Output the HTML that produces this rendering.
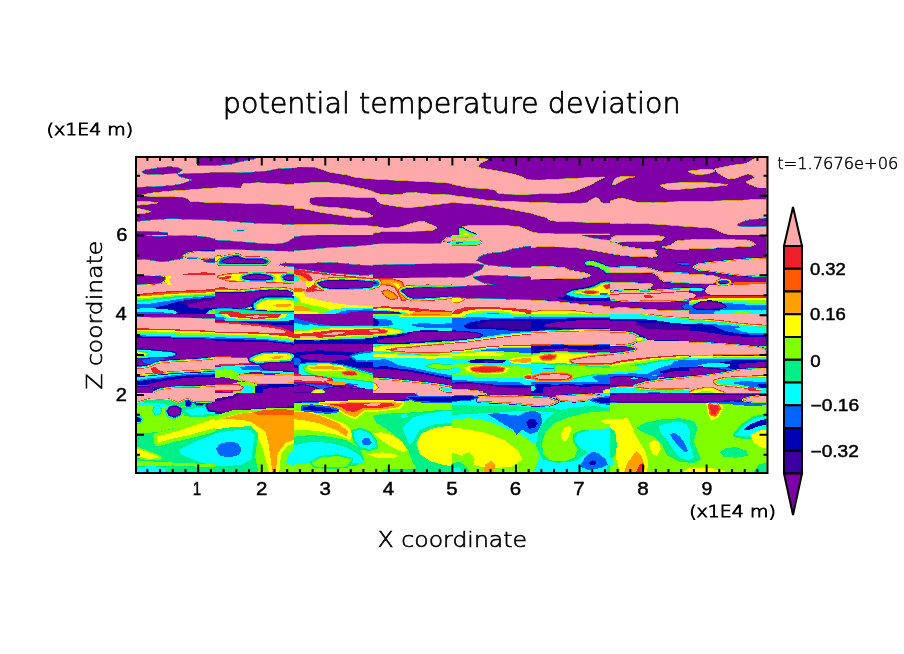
<!DOCTYPE html>
<html><head><meta charset="utf-8"><title>potential temperature deviation</title><style>html,body{margin:0;padding:0;background:#fff;overflow:hidden}</style></head><body>
<svg width="904" height="654" viewBox="0 0 904 654" style="display:block">
<rect width="904" height="654" fill="#fff"/>
<defs><clipPath id="fc"><rect x="137" y="158" width="629.5" height="314"/></clipPath></defs>
<g clip-path="url(#fc)" shape-rendering="crispEdges">
<rect x="137" y="158" width="629.5" height="314" fill="#ffaaaa"/>
<defs>
<clipPath id="t0"><rect x="136" y="156" width="158" height="79"/></clipPath>
<path id="q1" d="M197.2 157.4L254.8 157.4L254.8 158.4L240.9 161.2L230.4 163.9L214.7 165.1L198.9 165.1L197.2 163Z"/>
<path id="q2" d="M142.1 171.7L146.5 170L158.7 168.2L169.2 167.2L177.9 167.9L182.3 170L177.9 172.6L167.5 173.5L153.5 174L144.7 173.5Z"/>
<path id="q3" d="M177.9 174.7L193.7 173.7L214.7 173.3L233.9 173.3L249.6 172.8L267.1 171.4L275.8 169.5L294 168.4L294 224.2L275.8 223.3L258.3 222.9L240.9 221.7L223.4 220.3L205.9 219.3L188.4 218.9L171 218.2L153.5 219.3L136 221L136 187.8L153.5 187.1L171 186.1L181.4 184.3L193.7 179.9L181.4 176.6Z"/>
<path id="q4" d="M141.2 195.3L153.5 193.1L171 191.3L188.4 190.3L205.9 188.9L223.4 187.8L240.9 188.5L243 184L258.3 183.1L275.8 184L294 185L294 205.3L275.8 204.1L258.3 203.2L240.9 202.8L223.4 202.5L211.2 202.3L190.2 200.9L187.6 198.3L183.2 196.7L162.2 196.2L146.5 195.8Z"/>
<path id="q5" d="M136 201.8L146.5 201.8L157 202.8L146.5 204.1L136 204.9Z"/>
<path id="q6" d="M136 208.4L143 209.8L150 211.6L143 213.3L136 213.7Z"/>
<path id="q7" d="M136 231.5L153.5 232L167.5 232.9L167.5 235L136 235Z"/>
<clipPath id="t1"><rect x="294" y="156" width="158" height="79"/></clipPath>
<path id="q8" d="M294 156L452 156L452 183.1L442.6 182.2L425.1 181.3L407.6 180.5L390.1 179.6L372.7 178.7L355.2 177L346.4 174.4L339.4 173.5L329 171.7L322 169.1L315 166.8L297.5 166.5L294 167.9Z"/>
<path id="q9" d="M294 184L311.5 183.1L329 183.1L337.7 184L346.4 185.4L355.2 187.5L363.9 189.2L370.9 191L375.3 193.1L381.4 194.8L391.9 195.3L402.4 194.5L405.9 193.2L416.3 193.1L433.8 194.8L452 195.3L452 202.3L433.8 204.6L416.3 206.7L405.9 207.2L391.9 205.3L381.4 203.5L377.9 201.1L375.3 197.4L363.9 197.1L346.4 196.7L329 196.5L315 196.7L309.7 197.9L308.9 201.4L310.6 204.9L320.2 207L337.7 208.1L355.2 210.2L367.4 212.8L372.7 216.3L363.9 217.5L355.2 217.2L337.7 214.6L320.2 211.9L308 209.3L302.7 208.4L294 208.4Z"/>
<path id="q10" d="M294 224.5L329 225L363.9 225.9L376.1 226.8L384.9 228.5L398.9 227.7L407.6 225L416.3 222.4L423.3 221.5L428.6 224.2L433.8 225.9L436.4 228L432.1 230.3L416.3 230.8L398.9 231.2L381.4 231.5L372.7 232.9L372.7 235L294 235Z"/>
<clipPath id="t2"><rect x="452" y="156" width="158" height="79"/></clipPath>
<path id="q11" d="M452 156L476.5 156L476.5 158.1L487.8 159.5L480 163L477.3 166.5L481.7 168.6L495.7 170.9L504.4 172.6L513.2 174.4L521.9 177L527.2 180.1L539.4 180.5L556.9 179.6L574.3 178.7L591.8 177.8L604.1 177.3L597.1 180.5L591.8 184L583.1 187.5L574.3 191L565.6 192.7L548.1 193.2L521.9 194.1L504.4 193.6L497.4 192.7L496.6 190.1L487 188.3L469.5 187.5L460.7 185.7L452 184Z"/>
<path id="q12" d="M452 195.8L469.5 197.9L487 200.6L504.4 201.8L521.9 202.3L539.4 202.8L556.9 203.5L574.3 204.1L586.6 203.2L591.8 199.7L595.3 197.9L598.8 198.8L600.6 202.3L604.1 204.1L610 204.1L610 222.4L591.8 222.1L574.3 221.5L556.9 221L549.9 219.8L546.4 217.2L539.4 215.4L530.7 212.8L521.9 211.1L504.4 207.6L487 204.9L469.5 203.2L452 202.3Z"/>
<path id="q13" d="M462.5 226.8L469.5 225.9L487 225.6L504.4 225.9L518.4 226.8L525.4 229.4L530.7 232L539.4 233.8L556.9 234.3L610 234.3L610 236.4L462.5 236.4Z"/>
<path id="q14" d="M460 228.7L462.8 229.1L468.6 232.6L475.6 235L460 235Z"/>
<clipPath id="t3"><rect x="610" y="156" width="158" height="79"/></clipPath>
<path id="q15" d="M612.6 184L615.2 178.7L620.5 177L627.5 176.6L634.5 176.6L627.5 177.8L620.5 181.3L615.2 184Z"/>
<path id="q16" d="M714.9 169.1L723.6 167.4L732.3 165.6L746.3 163.9L753.3 159.5L755.9 158.1L768 158.1L768 187.5L758.6 187.5L749.8 184L746.3 182.2L749.8 180.5L755.1 177.8L753.3 175.2L748.1 173.5L742.8 175.2L735.8 177.8L728.8 178.7L721.9 175.2L716.6 171.7Z"/>
<path id="q17" d="M688.7 171.4L700.9 170L711.4 169.6L714.9 170.9L707.9 173.5L697.4 174.4L692.1 173.1Z"/>
<path id="q18" d="M660.7 185.4L669.4 183.6L679.9 183.1L697.4 182.6L714.9 183.6L727.1 184.8L714.9 186.1L697.4 187.5L679.9 188.9L667.7 189.2L664.2 187.5Z"/>
<path id="q19" d="M610 201.4L617 199.3L622.2 198.3L625.7 199.3L632.7 201.4L638 202.8L653.7 203.2L671.2 202.3L688.7 201.8L706.1 201.8L723.6 201.1L741.1 200.6L758.6 199.7L768 199.7L768 235L732.3 235L723.6 232.9L716.6 229.4L711.4 227.7L697.4 226.8L679.9 225.6L662.4 224.2L645 223.3L627.5 222.8L610 223.3Z"/>
<path id="q20" d="M737.6 225L742.8 222.1L749.8 220.3L760.3 219.3L768 218L768 225.9L749.8 226.3L739.3 225.9Z"/>
<clipPath id="t4"><rect x="136" y="235" width="79" height="79"/></clipPath>
<path id="q21" d="M136 235L145.7 235L145.7 236.2L160.2 236.8L172.2 236.2L184.3 236L196.4 236.4L208.5 237.7L215 239.6L215 250.7L202.4 251.3L190.4 252.5L184.3 254.1L180.7 256.5L183.1 258L175.9 259.2L166.2 261L160.2 261.3L148.1 259.2L140.8 258.6L136 258.6Z"/>
<path id="q22" d="M184.3 255.5L187.9 253.7L194 252.5L202.4 251.9L215 251.9L215 257.3L208.5 258.6L196.4 257.3L187.9 257.3Z"/>
<path id="q23" d="M203.6 261L208.5 259.5L215 258.9L215 262.2L208.5 262.2Z"/>
<path id="q24" d="M136 276.1L148.1 276.3L160.2 276.7L165 277.9L163.8 280.3L160.2 282.7L148.1 283.6L136 283.9Z"/>
<path id="q25" d="M207.3 314L209.7 311.1L215 310.1L215 314Z"/>
<clipPath id="t5"><rect x="215" y="235" width="79" height="79"/></clipPath>
<path id="q26" d="M215 240.4L227.1 241L239.2 242L251.2 242.9L263.3 244.1L275.4 244.4L282.6 243.5L287.5 242.2L291.1 239.8L294 238.6L294 251.3L287.5 250.7L275.4 250.5L263.3 250.1L251.2 249.7L239.2 249.3L227.1 248.9L215 249.3Z"/>
<path id="q27" d="M215 256.7L219.8 256.1L222.2 258L219.8 260.4L215 261Z"/>
<path id="q28" d="M218.6 261.8L221.6 258L229.5 255.8L238 254.9L242.2 257.3L247.6 258.2L258.5 258L265.7 258.9L268.8 261.3L266.3 264L251.2 264.2L227.1 264.2L218.6 264Z"/>
<path id="q29" d="M222.2 261.3L227.1 258.9L234.3 257.3L238 257L240.4 258.6L246.4 259.8L257.3 259.5L263.3 260.1L265.7 261.6L263.3 263L251.2 263.3L227.1 263Z"/>
<path id="q30" d="M280.2 264.6L285.1 263.7L294 264L294 265.9L287.5 265.9Z"/>
<path id="q31" d="M218.6 276.7L227.1 274.9L239.2 273.9L251.2 273.4L263.3 273.4L275.4 273.9L287.5 273.4L294 273.1L294 282.7L287.5 282.4L275.4 281.5L263.3 280.9L251.2 280.7L239.2 280.7L227.1 279.9Z"/>
<path id="q32" d="M243.4 277.5L248.8 275.7L256.1 274.9L263.3 275.3L269.4 276.7L271.8 278.2L263.3 279.1L253.7 279.1L246.4 278.5Z"/>
<path id="q33" d="M283.9 276.9L287.5 275.8L294 275.7L294 279.5L287.5 279.7L284.8 278.5Z"/>
<path id="q34" d="M215 292.7L227.1 292.7L239.2 293.2L251.2 292L263.3 290.8L275.4 290.3L287.5 291.2L292.3 293L289.9 297.8L282.6 299L269.4 299L257.3 300.8L251.2 305.1L245.2 307.5L233.1 307.7L221 307.5L215 307.5Z"/>
<path id="q35" d="M256.1 305.1L262.1 301.2L269.4 300L281.4 300L289.9 300.5L294 301L294 309.9L281.4 310.5L269.4 309.9L257.3 308.9Z"/>
<path id="q36" d="M215 309.3L227.1 308.9L239.2 309.7L251.2 310.9L263.3 311.7L275.4 312.6L294 312.6L294 314L215 314Z"/>
<clipPath id="t6"><rect x="294" y="235" width="79" height="79"/></clipPath>
<path id="q37" d="M294 237.2L303.7 236L318.2 235.4L330.2 235L373 235L373 244.4L366.5 244.7L354.4 245.9L342.3 246.5L330.2 247.1L318.2 248.3L306.1 249.5L294 250.1Z"/>
<path id="q38" d="M294 264L306.1 264L318.2 263.4L330.2 263L342.3 263.7L354.4 265.2L366.5 265.8L373 266.2L373 273.7L366.5 274.9L354.4 274.3L342.3 273.4L330.2 272.7L318.2 271.2L306.1 269.4L294 268.2Z"/>
<path id="q39" d="M294 276.7L297 277L298.8 278.7L297 280.7L294 280.9Z"/>
<path id="q40" d="M318.2 283.3L323 281.7L330.2 280.9L342.3 280.5L354.4 280.9L366.5 281.7L373 282.4L373 286.3L366.5 287.3L354.4 287.7L342.3 287.9L330.2 287.9L323 286.7Z"/>
<clipPath id="t7"><rect x="373" y="235" width="79" height="79"/></clipPath>
<path id="q41" d="M373 235L452 235L452 236.8L447.9 237.2L443.1 238.6L441.9 241L440.6 242.9L433.4 243.2L421.3 243.2L409.2 242.9L397.2 243.2L385.1 243.2L373 243.7Z"/>
<path id="q42" d="M444.3 240.4L446.7 238.4L452 237.4L452 241.6L447.9 241.3Z"/>
<path id="q43" d="M373 265.4L385.1 265.2L397.2 264.6L409.2 264.6L421.3 264.4L433.4 264.2L445.5 264L452 263.7L452 276.7L433.4 277L409.2 277.5L385.1 277.5L373 277.9Z"/>
<path id="q44" d="M377.8 279.9L391.1 279.5L400.8 282.7L403.8 288.1L408.6 298.4L402.6 299.3L399 291.8L395.3 286.3L388.7 283.9L380.2 283.6Z"/>
<path id="q45" d="M382.7 291.8L387.5 290.6L392.3 293L397.2 297.8L391.1 299L385.1 295.4Z"/>
<path id="q46" d="M373 280.3L377.8 280.9L379.6 283.3L377.8 285.7L373 286.3Z"/>
<path id="q47" d="M402 290.6L406.8 289L415.3 288.4L427.4 288.1L439.4 288.4L452 288.1L452 295.4L445.5 296L433.4 297L421.3 297.6L412.9 297.8L408 296Z"/>
<path id="q48" d="M373 312.3L385.1 312.1L397.2 312.9L400.8 314L373 314Z"/>
<clipPath id="t8"><rect x="452" y="235" width="79" height="79"/></clipPath>
<path id="q49" d="M452 235L473.7 235L472.5 236.4L464.1 237.2L452 237.7Z"/>
<path id="q50" d="M452 241.6L458 241L464.1 241.3L471.3 241L478.6 241L481 242.5L476.2 244.1L464.1 244.4L452 244.4Z"/>
<path id="q51" d="M477.4 260.4L479.8 257.3L483.4 255.5L488.2 254.3L494.3 253.1L500.3 252.9L505.1 251.9L510 250.1L514.8 248.9L520.9 248.3L524.5 247.1L531 246.5L531 266.6L524.5 266.6L512.4 266.6L500.3 265.8L488.2 264.6L483.4 263.4L481 261.8Z"/>
<path id="q52" d="M452 264L464.1 263.7L476.2 264L483.4 265.2L482.2 268.2L476.2 271.2L470.1 274.9L464.1 276.7L452 276.7Z"/>
<path id="q53" d="M473.7 277.3L482.2 276.1L488.2 275.5L500.3 276.1L512.4 276.7L524.5 277.3L531 277.5L531 299.3L512.4 298.7L488.2 298.1L464.1 297.5L452 297.1L452 287.2L464.1 286.6L476.2 286L488.2 285.4L497.9 284.5L488.2 283.3L482.2 282.1L476.2 279.1Z"/>
<path id="q54" d="M452 297.8L459.2 297.8L464.1 299.6L459.2 302L452 302.6Z"/>
<clipPath id="t9"><rect x="531" y="235" width="79" height="79"/></clipPath>
<path id="q55" d="M531 235L610 235L610 253.1L603.5 251.9L591.4 249.5L579.3 247.7L567.2 246.8L555.2 246.5L543.1 246.1L537 246.5L531 247.7Z"/>
<path id="q56" d="M582.9 235L610 235L610 239.8L603.5 239.2L591.4 237.4Z"/>
<path id="q57" d="M531 267.4L543.1 267L555.2 267.4L564.8 268.2L569.7 270.6L579.3 272.4L586.6 273.7L590.2 275.5L585.4 277.3L579.3 277.9L567.2 278.2L555.2 278.5L543.1 278.5L531 278.7Z"/>
<path id="q58" d="M586 262.8L589 261.6L595 262.5L601.1 264.6L605.9 267L610 267.6L610 271.8L607.1 272.4L603.5 269.4L598.6 266.6L591.4 264.6L586.6 264.6Z"/>
<path id="q59" d="M566 294.2L572.1 291.2L579.3 290L589 288.1L596.2 285.7L601.1 282.7L605.9 282.1L610 281.5L610 297.2L603.5 297.8L591.4 297.8L579.3 297.6L570.9 296Z"/>
<path id="q60" d="M574.5 291.8L581.7 290.6L589 289.6L596.2 287.5L601.1 284.5L605.9 283.3L610 283.3L610 294.2L603.5 294.8L591.4 294.8L581.7 293.6L575.7 293Z"/>
<path id="q61" d="M581.7 291.8L587.8 290.8L593.8 291.2L598.6 291.8L593.8 293.6L587.8 293.6Z"/>
<path id="q62" d="M603.5 285.7L610 283.9L610 288.1L605.9 288.8Z"/>
<path id="q63" d="M531 300.8L543.1 301.2L555.2 302L567.2 303.2L579.3 304.5L591.4 305.7L603.5 306.5L610 306.9L610 314L531 314Z"/>
<path id="q64" d="M531 314L531 312.3L543.1 310.9L555.2 310.5L567.2 310.9L579.3 311.7L591.4 313.3L592.6 314Z"/>
<clipPath id="t10"><rect x="610" y="235" width="79" height="79"/></clipPath>
<path id="q65" d="M612.4 237.4L617.2 235.6L634.2 235.6L646.2 235.6L658.3 236L664.4 237.4L661.9 239.8L652.3 241L634.2 241.3L622.1 241.6L613.6 242.2L610 240.4Z"/>
<path id="q66" d="M610 242.9L616 243.5L622.1 246.5L634.2 248.3L646.2 250.1L652.3 250.1L655.9 250.7L654.7 253.1L657.1 255.5L652.3 256.7L634.2 256.1L622.1 254.9L610 253.1Z"/>
<path id="q67" d="M663.1 247.1L670.4 245.9L674 243.5L677.6 241L684.9 240.4L689 240.4L689 248.9L682.5 248.9L670.4 248.5Z"/>
<path id="q68" d="M675.2 263L682.5 262.8L689 263.4L689 265.2L682.5 265Z"/>
<path id="q69" d="M610 268.2L622.1 267.4L634.2 267.4L646.2 268.2L653.5 270L658.3 271.8L664.4 272.7L676.4 273.4L689 273.7L689 281.5L676.4 281.9L664.4 280.9L660.7 278.5L658.3 275.5L653.5 272.4L646.2 272.2L634.2 271.8L622.1 271.8L610 271.8Z"/>
<path id="q70" d="M610 283.3L622.1 283.1L634.2 283.3L646.2 283.9L652.3 284.5L649.9 288.1L645 289.4L634.2 290.3L622.1 290L610 289.6Z"/>
<path id="q71" d="M610 293L622.1 291.5L634.2 291.2L646.2 291.8L658.3 290.8L670.4 290L682.5 289.4L689 289.4L689 299L682.5 299.6L670.4 300.2L658.3 300.2L646.2 300.2L634.2 300.8L622.1 300.2L610 299Z"/>
<path id="q72" d="M681.3 306.3L684.9 304.5L689 304.1L689 308.7L684.9 308.9Z"/>
<path id="q73" d="M610 308.7L622.1 308.1L634.2 308.7L646.2 309.7L658.3 310.5L670.4 311.1L682.5 311.3L689 311.1L689 314L610 314Z"/>
<clipPath id="t11"><rect x="689" y="235" width="79" height="79"/></clipPath>
<path id="q74" d="M689 240.4L701.1 240.1L713.2 239.8L725.2 240.1L737.3 240.4L747 240.4L751.8 242.2L754.8 244.1L751.8 245.6L737.3 246.5L725.2 247.1L713.2 247.7L701.1 248L689 248.3Z"/>
<path id="q75" d="M693.8 267L698.7 264.6L707.1 263.4L719.2 262.2L731.3 261L743.4 259.8L755.4 259.2L768 258.6L768 275.5L755.4 275.5L743.4 274.9L731.3 273.7L719.2 271.8L707.1 270L698.7 269.4Z"/>
<path id="q76" d="M689 274.6L701.1 275.1L713.2 276.1L719.2 277.9L716.8 280.9L713.2 282.7L701.1 283.3L689 283.3Z"/>
<path id="q77" d="M718.6 282.4L721.6 281.4L726.4 281.4L728.6 282.4L725.2 283.1L720.6 283.1Z"/>
<path id="q78" d="M689 288.1L695 287.7L701.1 288.1L704.7 289.4L701.1 290.8L695 290.8L689 290.3Z"/>
<path id="q79" d="M693.8 306.3L701.1 302.3L710.7 301.7L720.4 303.5L725.2 306.3L719.2 308.1L707.1 308.7L696.2 308.1Z"/>
<clipPath id="t12"><rect x="136" y="314" width="79" height="79"/></clipPath>
<path id="q80" d="M136 314L215 314L215 318.2L196.4 317.6L184.3 317.4L172.2 317L160.2 317L148.1 316.7L136 316.4Z"/>
<path id="q81" d="M136 349.6L148.1 350.2L160.2 351.4L172.2 352.4L175.9 353.9L172.2 356.3L160.2 356.9L148.1 357.5L136 358.1Z"/>
<path id="q82" d="M136 352.1L142 352.4L148.1 353.9L143.2 355.7L136 356Z"/>
<path id="q83" d="M136 375L160.2 373.8L184.3 372L215 370.8L215 393L136 393Z"/>
<path id="q84" d="M136 369L145.7 368.4L150.5 367.1L155.3 364.7L160.2 363.5L172.2 362.3L184.3 361.7L196.4 361.1L208.5 359.9L215 359.3L215 368.6L196.4 369.8L184.3 370.4L172.2 371L160.2 372.2L148.1 373.4L136 373.8Z"/>
<path id="q85" d="M136 381.6L148.1 379.8L160.2 378.6L172.2 376.8L184.3 375.6L196.4 375L215 374.4L215 393L136 393Z"/>
<path id="q86" d="M136 386.5L148.1 386.5L154.1 390.1L154.1 393L136 393Z"/>
<path id="q87" d="M154.1 393L160.2 390.1L172.2 388.3L184.3 387.9L196.4 387.7L208.5 387.1L215 386.5L215 393Z"/>
<clipPath id="t13"><rect x="215" y="314" width="79" height="79"/></clipPath>
<path id="q88" d="M251.2 359.3L257.3 356.3L263.3 354.5L275.4 353.9L287.5 354.5L292.3 355.7L289.9 359.3L281.4 359.9L269.4 360.5L257.3 361.7Z"/>
<path id="q89" d="M260.9 365.3L269.4 363.5L281.4 362.9L289.9 363.5L294 364.7L294 370.8L281.4 370.2L269.4 369.6L263.3 368.4Z"/>
<clipPath id="t14"><rect x="294" y="314" width="79" height="79"/></clipPath>
<path id="q90" d="M352 356.3L360.4 353.9L368.9 352.7L373 352.4L373 359.9L366.5 360.5L356.8 359.9Z"/>
<path id="q91" d="M298.8 364.7L306.1 363.5L318.2 362.9L330.2 363.5L342.3 365.3L354.4 368.4L366.5 372L373 373.8L373 386.5L354.4 384.1L342.3 382.2L330.2 381.6L318.2 381L306.1 379.8L298.8 376.8Z"/>
<path id="q92" d="M303.7 367.1L312.1 365.3L324.2 364.7L336.3 365.9L348.4 368.4L360.4 372L368.9 374.4L373 375.6L373 381.6L366.5 381L354.4 379.2L342.3 378L330.2 376.8L318.2 375.6L306.1 372Z"/>
<path id="q93" d="M308.5 367.1L318.2 366.2L330.2 366.2L339.9 367.1L344.7 369L336.3 369.6L324.2 369.3L312.1 369Z"/>
<path id="q94" d="M342.3 372.6L348.4 371.4L354.4 372L356.8 374.4L352 375L344.7 374.4Z"/>
<path id="q95" d="M294 385.9L303.7 385.3L312.1 387.1L318.2 389.1L312.1 391.6L303.7 392.2L294 391.6Z"/>
<path id="q96" d="M324.2 389.5L336.3 387.1L348.4 388.3L360.4 389.5L373 388.9L373 393L324.2 393Z"/>
<path id="q97" d="M312.1 393L315.7 390.3L321.8 390.1L324.2 391.9L323 393Z"/>
<clipPath id="t15"><rect x="373" y="314" width="79" height="79"/></clipPath>
<path id="q98" d="M373 327.9L385.1 328.3L397.2 329.7L403.2 331.5L397.2 333.3L385.1 334.5L373 335.1Z"/>
<path id="q99" d="M373 329.1L380.2 329.5L387.5 330.9L385.1 332.7L377.8 333.3L373 333.3Z"/>
<path id="q100" d="M373 347.8L379 346.6L385.1 345.6L397.2 344.8L409.2 344.8L421.3 344L433.4 343.2L445.5 342.7L452 342.4L452 353.9L433.4 354.5L421.3 353.9L409.2 352.7L397.2 352.1L385.1 351.4L373 350.8Z"/>
<path id="q101" d="M391.1 350.2L397.2 348.4L409.2 347.8L421.3 346.4L433.4 345.4L445.5 344.4L452 344.2L452 351.4L439.4 352.1L427.4 352.4L415.3 352.1L403.2 351.4Z"/>
<path id="q102" d="M426.1 365.9L433.4 364.1L440.6 364.5L447.9 364.7L452 365.3L452 368.4L445.5 369L433.4 368.4Z"/>
<path id="q103" d="M373 379.2L385.1 379.8L397.2 381L409.2 382.2L421.3 383.5L433.4 384.7L445.5 386.5L452 387.7L452 393L373 393Z"/>
<path id="q104" d="M373 382.9L375.4 384.1L377.8 387.7L375.4 390.1L373 390.1Z"/>
<path id="q105" d="M440.6 388.9L445.5 387.7L450.3 388.3L452 388.9L452 391.3L445.5 391.3Z"/>
<clipPath id="t16"><rect x="452" y="314" width="79" height="79"/></clipPath>
<path id="q106" d="M452 314L466.5 314L464.1 316.4L452 317Z"/>
<path id="q107" d="M452 331.5L464.1 332.1L476.2 333.3L482.2 335.1L476.2 337.6L464.1 338.8L452 339.4Z"/>
<path id="q108" d="M510 360.5L518.4 358.7L526.9 358.1L531 358.1L531 362.3L524.5 362.6L514.8 362.3Z"/>
<path id="q109" d="M471.3 368.4L482.2 366.9L494.3 366.9L503.9 368.4L502.7 370.8L494.3 371.7L482.2 372L473.7 370.8Z"/>
<path id="q110" d="M524.5 376.8L528.1 375.6L531 375.6L531 378.6L526.9 378.6Z"/>
<path id="q111" d="M452 384.1L464.1 383.5L476.2 384.1L488.2 385.3L500.3 387.1L512.4 388.3L531 388.5L531 393L452 393Z"/>
<path id="q112" d="M452 390.3L464.1 390.1L476.2 390.9L482.2 392.2L476.2 393L452 393Z"/>
<clipPath id="t17"><rect x="531" y="314" width="79" height="79"/></clipPath>
<path id="q113" d="M531 333.3L555.2 332.1L579.3 331.5L610 330.9L610 344.2L579.3 343.6L555.2 344L531 344.2Z"/>
<path id="q114" d="M531 346L555.2 345.4L579.3 345.6L610 345.4L610 353.9L579.3 354.5L555.2 352.7L531 353.3Z"/>
<path id="q115" d="M531 355.7L543.1 353.9L555.2 353.3L567.2 353.3L579.3 353.9L591.4 354.5L610 353.9L610 364.7L591.4 365.3L579.3 365.3L567.2 364.7L555.2 363.5L543.1 362.3L531 361.7Z"/>
<path id="q116" d="M540.7 356.9L549.1 355.3L555.2 355.7L554 358.1L549.1 359.3L541.9 358.7Z"/>
<path id="q117" d="M570.9 360.5L579.3 358.7L591.4 356.9L603.5 355.7L610 355.3L610 362.9L603.5 363.3L591.4 363.5L579.3 363.3L572.1 362.3Z"/>
<path id="q118" d="M555.2 364.7L567.2 364.7L579.3 365.9L591.4 367.1L610 367.8L610 374.4L591.4 374.4L579.3 376.8L567.2 379.2L555.2 379.2Z"/>
<path id="q119" d="M533.4 377.4L540.7 375L555.2 374.2L567.2 375L570.9 376.8L567.2 378.6L555.2 379.2L540.7 379.2Z"/>
<path id="q120" d="M603.5 391.3L607.1 389.5L610 389.5L610 393L603.5 393Z"/>
<clipPath id="t18"><rect x="610" y="314" width="79" height="79"/></clipPath>
<path id="q121" d="M610 378L622.1 376.8L634.2 377.4L646.2 379.2L652.3 381.6L646.2 384.1L634.2 385.3L622.1 385.3L610 385.3Z"/>
<path id="q122" d="M634.2 386.5L646.2 382.9L658.3 381L670.4 379.8L682.5 378.6L689 378L689 387.7L670.4 388.3L658.3 387.9L646.2 387.7Z"/>
<path id="q123" d="M610 389.1L622.1 387.9L634.2 388.5L646.2 390.3L658.3 390.9L670.4 390.9L689 390.3L689 393L610 393Z"/>
<path id="q124" d="M634.2 393L640.2 390.7L652.3 390.7L664.4 391.3L670.4 393Z"/>
<path id="q125" d="M610 314L634.2 314L646.2 315.2L658.3 317L670.4 318.2L682.5 318.8L689 319.1L689 326.1L610 326.1Z"/>
<path id="q126" d="M610 332.7L622.1 332.7L631.7 333.9L637.2 336.3L636.6 340L631.7 343L622.1 344.4L610 345.2Z"/>
<path id="q127" d="M636 338.2L640.2 337.7L645 339.4L640.2 340.8L637.2 340.6Z"/>
<path id="q128" d="M610 347.2L622.1 346.6L630.5 347.8L634.2 349L628.1 350.2L622.1 351.4L610 352.4Z"/>
<clipPath id="t19"><rect x="689" y="314" width="79" height="79"/></clipPath>
<path id="q129" d="M689 321.2L701.1 321L713.2 321.9L725.2 323.1L737.3 324.9L749.4 326.1L768 327.3L768 346.6L689 343Z"/>
<path id="q130" d="M689 355.7L713.2 354.8L737.3 354.5L768 355.1L768 376.8L689 376.8Z"/>
<path id="q131" d="M689 368.4L701.1 367.8L713.2 369L725.2 370.8L731.3 373.2L713.2 375L701.1 375.6L689 376.2Z"/>
<path id="q132" d="M689 342.7L713.2 343.6L737.3 345.4L755.4 347.2L763.9 349L766.3 352.7L763.9 354.5L737.3 354.1L713.2 354.5L689 355.1Z"/>
<path id="q133" d="M689 377.4L701.1 376.6L713.2 375L725.2 373.2L737.3 370.8L749.4 369.6L768 369L768 393L689 393Z"/>
<path id="q134" d="M715.6 381.6L725.2 379.2L737.3 378.6L749.4 378L768 377.4L768 388.9L755.4 388.3L747 386.5L737.3 385.3L725.2 384.1L718 383.5Z"/>
<path id="q135" d="M689 393L695 390.1L707.1 387.7L713.2 388.3L719.2 391.3L725.2 393Z"/>
<clipPath id="t20"><rect x="136" y="393" width="158" height="79"/></clipPath>
<path id="q136" d="M136 393L244.4 393L240.9 396.5L223.4 398.2L214.7 400L197.2 400.9L188.4 400L179.7 401.7L171 402.6L162.2 400.9L153.5 401.7L136 400.9Z"/>
<path id="q137" d="M240.9 393L294 393L294 405.2L284.6 407L267.1 407.9L249.6 408.7L232.1 410.5L214.7 411.4L205.9 409.6L202.4 406.1L209.4 402.6L223.4 400L233.9 398.2Z"/>
<path id="q138" d="M168.3 410.5L171 407.9L176.2 407.3L180.6 409.6L179.7 414L174.5 415.7L170.1 414.8Z"/>
<path id="q139" d="M186.7 403.5L190.2 400.9L193.7 402.6L191.9 407L188.4 407.9Z"/>
<path id="q140" d="M279.3 472L281.1 454.2L288.1 445.4L294 443.7L294 472Z"/>
<path id="q141" d="M162.2 448.9L179.7 443.7L197.2 438.4L214.7 433.2L232.1 430.6L249.6 429.7L254.8 434.9L253.1 445.4L251.4 459.4L240.9 464.7L223.4 466.4L205.9 464.7L188.4 459.4L171 455.9Z"/>
<clipPath id="t21"><rect x="294" y="393" width="158" height="79"/></clipPath>
<path id="q142" d="M294 393L416.3 393L414.6 396.5L407.6 399.1L398.9 400L381.4 400.9L363.9 400.9L346.4 400.9L329 400.9L311.5 400.9L294 401.7Z"/>
<path id="q143" d="M416.3 393L452 393L452 396.8L433.8 396.8L419.8 396.1Z"/>
<path id="q144" d="M407.6 397.4L425.1 397.4L452 397.4L452 401.7L433.8 401.7L416.3 400.9Z"/>
<path id="q145" d="M320.2 403.5L337.7 402.6L363.9 401.7L390.1 401.7L402.4 403.5L398.9 407L381.4 409.6L363.9 410.5L355.2 417.5L346.4 414L337.7 408.7L329 406.1Z"/>
<path id="q146" d="M302.7 407L311.5 406.1L329 407.9L337.7 410.5L329 412.2L311.5 410.5L302.7 409.6Z"/>
<path id="q147" d="M311.5 462.9L320.2 457.7L337.7 455.9L351.7 459.4L346.4 466.4L329 467.3L315 466.4Z"/>
<path id="q148" d="M353.4 431.5L360.4 429.7L369.2 433.2L374.4 440.2L376.1 447.2L369.2 448.9L360.4 447.2L355.2 440.2Z"/>
<clipPath id="t22"><rect x="452" y="393" width="158" height="79"/></clipPath>
<path id="q149" d="M452 393L487 393L483.5 394.7L469.5 395.1L452 395.6Z"/>
<path id="q150" d="M478.2 397.4L504.4 396.5L530.7 397.4L548.1 398.2L556.9 401.7L548.1 405.2L530.7 404.4L513.2 402.6L495.7 401.7L478.2 400.9Z"/>
<path id="q151" d="M556.9 396.5L574.3 395.6L591.8 394.7L600.6 396.5L591.8 399.1L574.3 400.9L560.4 400Z"/>
<path id="q152" d="M452 396.5L469.5 395.6L478.2 397.4L469.5 400L452 400.9Z"/>
<path id="q153" d="M591.8 400L600.6 398.2L610 397.4L610 403.5L600.6 402.6Z"/>
<clipPath id="t23"><rect x="610" y="393" width="158" height="79"/></clipPath>
<path id="q154" d="M610 394.7L645 393.9L679.9 394.4L714.9 394.7L732.3 395.1L749.8 395.6L768 395.1L768 401.7L749.8 400.9L732.3 400L714.9 400.9L697.4 401.4L662.4 401.4L627.5 401.4L610 400.9Z"/>
<path id="q155" d="M742.8 400L749.8 397.4L768 395.6L768 401.7L753.3 401.7Z"/>
<path id="q156" d="M709.6 405.2L716.6 404.4L719.2 408.7L714.9 414.8L711.4 414Z"/>
<path id="q157" d="M735.8 434.9L742.8 426.2L753.3 419.2L768 415.7L768 433.2L758.6 434.9L746.3 436.7Z"/>
<clipPath id="t24"><rect x="136" y="393" width="79" height="79"/></clipPath>
<path id="q158" d="M157.1 436.5L172.2 432.6L190.4 426.8L215 418.6L215 428L190.4 434.7L172.2 438.7L157.7 442.8Z"/>
<path id="q159" d="M136 448L148.1 452.4L159 456.8L160.2 458.2L148.1 458.8L136 455.8Z"/>
<path id="q160" d="M152.9 409.9L155.3 406.5L159 406.3L161.4 409.9L159.6 414.1L155.3 414.7Z"/>
<path id="q161" d="M136 417.2L139.6 417.8L141.4 419.6L139.6 421.7L136 422Z"/>
<path id="q162" d="M168 411.1L170.4 407.5L175.9 406.9L180.1 409.3L179.5 413.5L174.7 416L169.8 414.7Z"/>
<path id="q163" d="M185.5 401.5L189.1 400.2L191.6 402.7L190.4 405.7L186.7 406.3Z"/>
<path id="q164" d="M207.3 405.1L210.9 403.3L215 402.9L215 409.9L209.7 409.9Z"/>
<path id="q165" d="M194 402.7L201.2 401.7L206.1 402.7L202.4 405.1L196.4 405.1Z"/>
<path id="q166" d="M136 393L215 393L215 400.9L203.6 401.5L194 400.9L187.9 397.8L184.3 399L178.3 402.1L169.8 398.4L160.2 399L148.1 398.4L136 402.1Z"/>
</defs>
<g stroke-linejoin="round">
<g clip-path="url(#t0)">
<rect x="136" y="156" width="158" height="79" fill="#ffaaaa"/>
<use href="#q1" fill="#f0202a" stroke="#f0202a" stroke-width="1.75"/>
<use href="#q1" fill="#ff5a00" stroke="#ff5a00" stroke-width="1.57"/>
<use href="#q1" fill="#ffa000" stroke="#ffa000" stroke-width="1.40"/>
<use href="#q1" fill="#ffff00" stroke="#ffff00" stroke-width="1.22"/>
<use href="#q1" fill="#80ff00" stroke="#80ff00" stroke-width="1.05"/>
<use href="#q1" fill="#00f088" stroke="#00f088" stroke-width="0.87"/>
<use href="#q1" fill="#00ffff" stroke="#00ffff" stroke-width="0.70"/>
<use href="#q1" fill="#0064ff" stroke="#0064ff" stroke-width="0.52"/>
<use href="#q1" fill="#0000b4" stroke="#0000b4" stroke-width="0.35"/>
<use href="#q1" fill="#3c00a0" stroke="#3c00a0" stroke-width="0.17"/>
<use href="#q1" fill="#8000a8"/>
<use href="#q2" fill="#f0202a" stroke="#f0202a" stroke-width="1.75"/>
<use href="#q2" fill="#ff5a00" stroke="#ff5a00" stroke-width="1.57"/>
<use href="#q2" fill="#ffa000" stroke="#ffa000" stroke-width="1.40"/>
<use href="#q2" fill="#ffff00" stroke="#ffff00" stroke-width="1.22"/>
<use href="#q2" fill="#80ff00" stroke="#80ff00" stroke-width="1.05"/>
<use href="#q2" fill="#00f088" stroke="#00f088" stroke-width="0.87"/>
<use href="#q2" fill="#00ffff" stroke="#00ffff" stroke-width="0.70"/>
<use href="#q2" fill="#0064ff" stroke="#0064ff" stroke-width="0.52"/>
<use href="#q2" fill="#0000b4" stroke="#0000b4" stroke-width="0.35"/>
<use href="#q2" fill="#3c00a0" stroke="#3c00a0" stroke-width="0.17"/>
<use href="#q2" fill="#8000a8"/>
<use href="#q3" fill="#f0202a" stroke="#f0202a" stroke-width="1.75"/>
<use href="#q3" fill="#ff5a00" stroke="#ff5a00" stroke-width="1.57"/>
<use href="#q3" fill="#ffa000" stroke="#ffa000" stroke-width="1.40"/>
<use href="#q3" fill="#ffff00" stroke="#ffff00" stroke-width="1.22"/>
<use href="#q3" fill="#80ff00" stroke="#80ff00" stroke-width="1.05"/>
<use href="#q3" fill="#00f088" stroke="#00f088" stroke-width="0.87"/>
<use href="#q3" fill="#00ffff" stroke="#00ffff" stroke-width="0.70"/>
<use href="#q3" fill="#0064ff" stroke="#0064ff" stroke-width="0.52"/>
<use href="#q3" fill="#0000b4" stroke="#0000b4" stroke-width="0.35"/>
<use href="#q3" fill="#3c00a0" stroke="#3c00a0" stroke-width="0.17"/>
<use href="#q3" fill="#8000a8"/>
<use href="#q4" fill="#3c00a0" stroke="#3c00a0" stroke-width="1.75"/>
<use href="#q4" fill="#0000b4" stroke="#0000b4" stroke-width="1.57"/>
<use href="#q4" fill="#0064ff" stroke="#0064ff" stroke-width="1.40"/>
<use href="#q4" fill="#00ffff" stroke="#00ffff" stroke-width="1.22"/>
<use href="#q4" fill="#00f088" stroke="#00f088" stroke-width="1.05"/>
<use href="#q4" fill="#80ff00" stroke="#80ff00" stroke-width="0.87"/>
<use href="#q4" fill="#ffff00" stroke="#ffff00" stroke-width="0.70"/>
<use href="#q4" fill="#ffa000" stroke="#ffa000" stroke-width="0.52"/>
<use href="#q4" fill="#ff5a00" stroke="#ff5a00" stroke-width="0.35"/>
<use href="#q4" fill="#f0202a" stroke="#f0202a" stroke-width="0.17"/>
<use href="#q4" fill="#ffaaaa"/>
<use href="#q5" fill="#3c00a0" stroke="#3c00a0" stroke-width="1.75"/>
<use href="#q5" fill="#0000b4" stroke="#0000b4" stroke-width="1.57"/>
<use href="#q5" fill="#0064ff" stroke="#0064ff" stroke-width="1.40"/>
<use href="#q5" fill="#00ffff" stroke="#00ffff" stroke-width="1.22"/>
<use href="#q5" fill="#00f088" stroke="#00f088" stroke-width="1.05"/>
<use href="#q5" fill="#80ff00" stroke="#80ff00" stroke-width="0.87"/>
<use href="#q5" fill="#ffff00" stroke="#ffff00" stroke-width="0.70"/>
<use href="#q5" fill="#ffa000" stroke="#ffa000" stroke-width="0.52"/>
<use href="#q5" fill="#ff5a00" stroke="#ff5a00" stroke-width="0.35"/>
<use href="#q5" fill="#f0202a" stroke="#f0202a" stroke-width="0.17"/>
<use href="#q5" fill="#ffaaaa"/>
<use href="#q6" fill="#3c00a0" stroke="#3c00a0" stroke-width="1.75"/>
<use href="#q6" fill="#0000b4" stroke="#0000b4" stroke-width="1.57"/>
<use href="#q6" fill="#0064ff" stroke="#0064ff" stroke-width="1.40"/>
<use href="#q6" fill="#00ffff" stroke="#00ffff" stroke-width="1.22"/>
<use href="#q6" fill="#00f088" stroke="#00f088" stroke-width="1.05"/>
<use href="#q6" fill="#80ff00" stroke="#80ff00" stroke-width="0.87"/>
<use href="#q6" fill="#ffff00" stroke="#ffff00" stroke-width="0.70"/>
<use href="#q6" fill="#ffa000" stroke="#ffa000" stroke-width="0.52"/>
<use href="#q6" fill="#ff5a00" stroke="#ff5a00" stroke-width="0.35"/>
<use href="#q6" fill="#f0202a" stroke="#f0202a" stroke-width="0.17"/>
<use href="#q6" fill="#ffaaaa"/>
<use href="#q7" fill="#f0202a" stroke="#f0202a" stroke-width="1.75"/>
<use href="#q7" fill="#ff5a00" stroke="#ff5a00" stroke-width="1.57"/>
<use href="#q7" fill="#ffa000" stroke="#ffa000" stroke-width="1.40"/>
<use href="#q7" fill="#ffff00" stroke="#ffff00" stroke-width="1.22"/>
<use href="#q7" fill="#80ff00" stroke="#80ff00" stroke-width="1.05"/>
<use href="#q7" fill="#00f088" stroke="#00f088" stroke-width="0.87"/>
<use href="#q7" fill="#00ffff" stroke="#00ffff" stroke-width="0.70"/>
<use href="#q7" fill="#0064ff" stroke="#0064ff" stroke-width="0.52"/>
<use href="#q7" fill="#0000b4" stroke="#0000b4" stroke-width="0.35"/>
<use href="#q7" fill="#3c00a0" stroke="#3c00a0" stroke-width="0.17"/>
<use href="#q7" fill="#8000a8"/>
<path d="M232.1 230.8L237.4 229.4L244.4 229.1L247 230.3L240.9 232L233.9 232.2Z" fill="#00ffff"/>
<path d="M235.6 230.8L240.9 229.9L244.4 230.5L240.9 231.3Z" fill="#0064ff"/>
</g>
<g clip-path="url(#t1)">
<rect x="294" y="156" width="158" height="79" fill="#8000a8"/>
<use href="#q8" fill="#3c00a0" stroke="#3c00a0" stroke-width="1.75"/>
<use href="#q8" fill="#0000b4" stroke="#0000b4" stroke-width="1.57"/>
<use href="#q8" fill="#0064ff" stroke="#0064ff" stroke-width="1.40"/>
<use href="#q8" fill="#00ffff" stroke="#00ffff" stroke-width="1.22"/>
<use href="#q8" fill="#00f088" stroke="#00f088" stroke-width="1.05"/>
<use href="#q8" fill="#80ff00" stroke="#80ff00" stroke-width="0.87"/>
<use href="#q8" fill="#ffff00" stroke="#ffff00" stroke-width="0.70"/>
<use href="#q8" fill="#ffa000" stroke="#ffa000" stroke-width="0.52"/>
<use href="#q8" fill="#ff5a00" stroke="#ff5a00" stroke-width="0.35"/>
<use href="#q8" fill="#f0202a" stroke="#f0202a" stroke-width="0.17"/>
<use href="#q8" fill="#ffaaaa"/>
<use href="#q9" fill="#3c00a0" stroke="#3c00a0" stroke-width="1.75"/>
<use href="#q9" fill="#0000b4" stroke="#0000b4" stroke-width="1.57"/>
<use href="#q9" fill="#0064ff" stroke="#0064ff" stroke-width="1.40"/>
<use href="#q9" fill="#00ffff" stroke="#00ffff" stroke-width="1.22"/>
<use href="#q9" fill="#00f088" stroke="#00f088" stroke-width="1.05"/>
<use href="#q9" fill="#80ff00" stroke="#80ff00" stroke-width="0.87"/>
<use href="#q9" fill="#ffff00" stroke="#ffff00" stroke-width="0.70"/>
<use href="#q9" fill="#ffa000" stroke="#ffa000" stroke-width="0.52"/>
<use href="#q9" fill="#ff5a00" stroke="#ff5a00" stroke-width="0.35"/>
<use href="#q9" fill="#f0202a" stroke="#f0202a" stroke-width="0.17"/>
<use href="#q9" fill="#ffaaaa"/>
<use href="#q10" fill="#3c00a0" stroke="#3c00a0" stroke-width="1.75"/>
<use href="#q10" fill="#0000b4" stroke="#0000b4" stroke-width="1.57"/>
<use href="#q10" fill="#0064ff" stroke="#0064ff" stroke-width="1.40"/>
<use href="#q10" fill="#00ffff" stroke="#00ffff" stroke-width="1.22"/>
<use href="#q10" fill="#00f088" stroke="#00f088" stroke-width="1.05"/>
<use href="#q10" fill="#80ff00" stroke="#80ff00" stroke-width="0.87"/>
<use href="#q10" fill="#ffff00" stroke="#ffff00" stroke-width="0.70"/>
<use href="#q10" fill="#ffa000" stroke="#ffa000" stroke-width="0.52"/>
<use href="#q10" fill="#ff5a00" stroke="#ff5a00" stroke-width="0.35"/>
<use href="#q10" fill="#f0202a" stroke="#f0202a" stroke-width="0.17"/>
<use href="#q10" fill="#ffaaaa"/>
</g>
<g clip-path="url(#t2)">
<rect x="452" y="156" width="158" height="79" fill="#8000a8"/>
<use href="#q11" fill="#3c00a0" stroke="#3c00a0" stroke-width="1.75"/>
<use href="#q11" fill="#0000b4" stroke="#0000b4" stroke-width="1.57"/>
<use href="#q11" fill="#0064ff" stroke="#0064ff" stroke-width="1.40"/>
<use href="#q11" fill="#00ffff" stroke="#00ffff" stroke-width="1.22"/>
<use href="#q11" fill="#00f088" stroke="#00f088" stroke-width="1.05"/>
<use href="#q11" fill="#80ff00" stroke="#80ff00" stroke-width="0.87"/>
<use href="#q11" fill="#ffff00" stroke="#ffff00" stroke-width="0.70"/>
<use href="#q11" fill="#ffa000" stroke="#ffa000" stroke-width="0.52"/>
<use href="#q11" fill="#ff5a00" stroke="#ff5a00" stroke-width="0.35"/>
<use href="#q11" fill="#f0202a" stroke="#f0202a" stroke-width="0.17"/>
<use href="#q11" fill="#ffaaaa"/>
<use href="#q12" fill="#3c00a0" stroke="#3c00a0" stroke-width="1.75"/>
<use href="#q12" fill="#0000b4" stroke="#0000b4" stroke-width="1.57"/>
<use href="#q12" fill="#0064ff" stroke="#0064ff" stroke-width="1.40"/>
<use href="#q12" fill="#00ffff" stroke="#00ffff" stroke-width="1.22"/>
<use href="#q12" fill="#00f088" stroke="#00f088" stroke-width="1.05"/>
<use href="#q12" fill="#80ff00" stroke="#80ff00" stroke-width="0.87"/>
<use href="#q12" fill="#ffff00" stroke="#ffff00" stroke-width="0.70"/>
<use href="#q12" fill="#ffa000" stroke="#ffa000" stroke-width="0.52"/>
<use href="#q12" fill="#ff5a00" stroke="#ff5a00" stroke-width="0.35"/>
<use href="#q12" fill="#f0202a" stroke="#f0202a" stroke-width="0.17"/>
<use href="#q12" fill="#ffaaaa"/>
<use href="#q13" fill="#3c00a0" stroke="#3c00a0" stroke-width="1.75"/>
<use href="#q13" fill="#0000b4" stroke="#0000b4" stroke-width="1.57"/>
<use href="#q13" fill="#0064ff" stroke="#0064ff" stroke-width="1.40"/>
<use href="#q13" fill="#00ffff" stroke="#00ffff" stroke-width="1.22"/>
<use href="#q13" fill="#00f088" stroke="#00f088" stroke-width="1.05"/>
<use href="#q13" fill="#80ff00" stroke="#80ff00" stroke-width="0.87"/>
<use href="#q13" fill="#ffff00" stroke="#ffff00" stroke-width="0.70"/>
<use href="#q13" fill="#ffa000" stroke="#ffa000" stroke-width="0.52"/>
<use href="#q13" fill="#ff5a00" stroke="#ff5a00" stroke-width="0.35"/>
<use href="#q13" fill="#f0202a" stroke="#f0202a" stroke-width="0.17"/>
<use href="#q13" fill="#ffaaaa"/>
<use href="#q14" fill="#3c00a0" stroke="#3c00a0" stroke-width="3.50"/>
<use href="#q14" fill="#0000b4" stroke="#0000b4" stroke-width="2.80"/>
<use href="#q14" fill="#0064ff" stroke="#0064ff" stroke-width="2.10"/>
<use href="#q14" fill="#00ffff" stroke="#00ffff" stroke-width="1.40"/>
<use href="#q14" fill="#00f088" stroke="#00f088" stroke-width="0.70"/>
<use href="#q14" fill="#80ff00"/>
<path d="M462.5 232.9L466 232.9L469.5 235L462.5 235Z" fill="#ffff00"/>
</g>
<g clip-path="url(#t3)">
<rect x="610" y="156" width="158" height="79" fill="#8000a8"/>
<use href="#q15" fill="#3c00a0" stroke="#3c00a0" stroke-width="1.75"/>
<use href="#q15" fill="#0000b4" stroke="#0000b4" stroke-width="1.57"/>
<use href="#q15" fill="#0064ff" stroke="#0064ff" stroke-width="1.40"/>
<use href="#q15" fill="#00ffff" stroke="#00ffff" stroke-width="1.22"/>
<use href="#q15" fill="#00f088" stroke="#00f088" stroke-width="1.05"/>
<use href="#q15" fill="#80ff00" stroke="#80ff00" stroke-width="0.87"/>
<use href="#q15" fill="#ffff00" stroke="#ffff00" stroke-width="0.70"/>
<use href="#q15" fill="#ffa000" stroke="#ffa000" stroke-width="0.52"/>
<use href="#q15" fill="#ff5a00" stroke="#ff5a00" stroke-width="0.35"/>
<use href="#q15" fill="#f0202a" stroke="#f0202a" stroke-width="0.17"/>
<use href="#q15" fill="#ffaaaa"/>
<use href="#q16" fill="#3c00a0" stroke="#3c00a0" stroke-width="1.75"/>
<use href="#q16" fill="#0000b4" stroke="#0000b4" stroke-width="1.57"/>
<use href="#q16" fill="#0064ff" stroke="#0064ff" stroke-width="1.40"/>
<use href="#q16" fill="#00ffff" stroke="#00ffff" stroke-width="1.22"/>
<use href="#q16" fill="#00f088" stroke="#00f088" stroke-width="1.05"/>
<use href="#q16" fill="#80ff00" stroke="#80ff00" stroke-width="0.87"/>
<use href="#q16" fill="#ffff00" stroke="#ffff00" stroke-width="0.70"/>
<use href="#q16" fill="#ffa000" stroke="#ffa000" stroke-width="0.52"/>
<use href="#q16" fill="#ff5a00" stroke="#ff5a00" stroke-width="0.35"/>
<use href="#q16" fill="#f0202a" stroke="#f0202a" stroke-width="0.17"/>
<use href="#q16" fill="#ffaaaa"/>
<use href="#q17" fill="#3c00a0" stroke="#3c00a0" stroke-width="1.75"/>
<use href="#q17" fill="#0000b4" stroke="#0000b4" stroke-width="1.57"/>
<use href="#q17" fill="#0064ff" stroke="#0064ff" stroke-width="1.40"/>
<use href="#q17" fill="#00ffff" stroke="#00ffff" stroke-width="1.22"/>
<use href="#q17" fill="#00f088" stroke="#00f088" stroke-width="1.05"/>
<use href="#q17" fill="#80ff00" stroke="#80ff00" stroke-width="0.87"/>
<use href="#q17" fill="#ffff00" stroke="#ffff00" stroke-width="0.70"/>
<use href="#q17" fill="#ffa000" stroke="#ffa000" stroke-width="0.52"/>
<use href="#q17" fill="#ff5a00" stroke="#ff5a00" stroke-width="0.35"/>
<use href="#q17" fill="#f0202a" stroke="#f0202a" stroke-width="0.17"/>
<use href="#q17" fill="#ffaaaa"/>
<use href="#q18" fill="#3c00a0" stroke="#3c00a0" stroke-width="1.75"/>
<use href="#q18" fill="#0000b4" stroke="#0000b4" stroke-width="1.57"/>
<use href="#q18" fill="#0064ff" stroke="#0064ff" stroke-width="1.40"/>
<use href="#q18" fill="#00ffff" stroke="#00ffff" stroke-width="1.22"/>
<use href="#q18" fill="#00f088" stroke="#00f088" stroke-width="1.05"/>
<use href="#q18" fill="#80ff00" stroke="#80ff00" stroke-width="0.87"/>
<use href="#q18" fill="#ffff00" stroke="#ffff00" stroke-width="0.70"/>
<use href="#q18" fill="#ffa000" stroke="#ffa000" stroke-width="0.52"/>
<use href="#q18" fill="#ff5a00" stroke="#ff5a00" stroke-width="0.35"/>
<use href="#q18" fill="#f0202a" stroke="#f0202a" stroke-width="0.17"/>
<use href="#q18" fill="#ffaaaa"/>
<use href="#q19" fill="#3c00a0" stroke="#3c00a0" stroke-width="1.75"/>
<use href="#q19" fill="#0000b4" stroke="#0000b4" stroke-width="1.57"/>
<use href="#q19" fill="#0064ff" stroke="#0064ff" stroke-width="1.40"/>
<use href="#q19" fill="#00ffff" stroke="#00ffff" stroke-width="1.22"/>
<use href="#q19" fill="#00f088" stroke="#00f088" stroke-width="1.05"/>
<use href="#q19" fill="#80ff00" stroke="#80ff00" stroke-width="0.87"/>
<use href="#q19" fill="#ffff00" stroke="#ffff00" stroke-width="0.70"/>
<use href="#q19" fill="#ffa000" stroke="#ffa000" stroke-width="0.52"/>
<use href="#q19" fill="#ff5a00" stroke="#ff5a00" stroke-width="0.35"/>
<use href="#q19" fill="#f0202a" stroke="#f0202a" stroke-width="0.17"/>
<use href="#q19" fill="#ffaaaa"/>
<use href="#q20" fill="#f0202a" stroke="#f0202a" stroke-width="1.75"/>
<use href="#q20" fill="#ff5a00" stroke="#ff5a00" stroke-width="1.57"/>
<use href="#q20" fill="#ffa000" stroke="#ffa000" stroke-width="1.40"/>
<use href="#q20" fill="#ffff00" stroke="#ffff00" stroke-width="1.22"/>
<use href="#q20" fill="#80ff00" stroke="#80ff00" stroke-width="1.05"/>
<use href="#q20" fill="#00f088" stroke="#00f088" stroke-width="0.87"/>
<use href="#q20" fill="#00ffff" stroke="#00ffff" stroke-width="0.70"/>
<use href="#q20" fill="#0064ff" stroke="#0064ff" stroke-width="0.52"/>
<use href="#q20" fill="#0000b4" stroke="#0000b4" stroke-width="0.35"/>
<use href="#q20" fill="#3c00a0" stroke="#3c00a0" stroke-width="0.17"/>
<use href="#q20" fill="#8000a8"/>
</g>
<g clip-path="url(#t4)">
<rect x="136" y="235" width="79" height="79" fill="#ffaaaa"/>
<use href="#q21" fill="#f0202a" stroke="#f0202a" stroke-width="1.93"/>
<use href="#q21" fill="#ff5a00" stroke="#ff5a00" stroke-width="1.74"/>
<use href="#q21" fill="#ffa000" stroke="#ffa000" stroke-width="1.55"/>
<use href="#q21" fill="#ffff00" stroke="#ffff00" stroke-width="1.35"/>
<use href="#q21" fill="#80ff00" stroke="#80ff00" stroke-width="1.16"/>
<use href="#q21" fill="#00f088" stroke="#00f088" stroke-width="0.97"/>
<use href="#q21" fill="#00ffff" stroke="#00ffff" stroke-width="0.77"/>
<use href="#q21" fill="#0064ff" stroke="#0064ff" stroke-width="0.58"/>
<use href="#q21" fill="#0000b4" stroke="#0000b4" stroke-width="0.39"/>
<use href="#q21" fill="#3c00a0" stroke="#3c00a0" stroke-width="0.19"/>
<use href="#q21" fill="#8000a8"/>
<use href="#q22" fill="#3c00a0" stroke="#3c00a0" stroke-width="3.38"/>
<use href="#q22" fill="#0000b4" stroke="#0000b4" stroke-width="3.04"/>
<use href="#q22" fill="#0064ff" stroke="#0064ff" stroke-width="2.71"/>
<use href="#q22" fill="#00ffff" stroke="#00ffff" stroke-width="2.37"/>
<use href="#q22" fill="#00f088" stroke="#00f088" stroke-width="2.03"/>
<use href="#q22" fill="#80ff00" stroke="#80ff00" stroke-width="1.69"/>
<use href="#q22" fill="#ffff00" stroke="#ffff00" stroke-width="1.35"/>
<use href="#q22" fill="#ffa000" stroke="#ffa000" stroke-width="1.01"/>
<use href="#q22" fill="#ff5a00" stroke="#ff5a00" stroke-width="0.68"/>
<use href="#q22" fill="#f0202a" stroke="#f0202a" stroke-width="0.34"/>
<use href="#q22" fill="#ffaaaa"/>
<use href="#q23" fill="#f0202a" stroke="#f0202a" stroke-width="1.93"/>
<use href="#q23" fill="#ff5a00" stroke="#ff5a00" stroke-width="1.74"/>
<use href="#q23" fill="#ffa000" stroke="#ffa000" stroke-width="1.55"/>
<use href="#q23" fill="#ffff00" stroke="#ffff00" stroke-width="1.35"/>
<use href="#q23" fill="#80ff00" stroke="#80ff00" stroke-width="1.16"/>
<use href="#q23" fill="#00f088" stroke="#00f088" stroke-width="0.97"/>
<use href="#q23" fill="#00ffff" stroke="#00ffff" stroke-width="0.77"/>
<use href="#q23" fill="#0064ff" stroke="#0064ff" stroke-width="0.58"/>
<use href="#q23" fill="#0000b4" stroke="#0000b4" stroke-width="0.39"/>
<use href="#q23" fill="#3c00a0" stroke="#3c00a0" stroke-width="0.19"/>
<use href="#q23" fill="#8000a8"/>
<path d="M181.9 274.3L190.4 273.1L202.4 272.4L215 272.7L215 274.9L202.4 274.9L190.4 275.5Z" fill="#f0202a"/>
<path d="M163.8 276.7L167.4 276.1L172.2 276.7L168.6 280.3L172.2 284.5L167.4 284.5L165 280.9Z" fill="#ffff00"/>
<use href="#q24" fill="#f0202a" stroke="#f0202a" stroke-width="2.90"/>
<use href="#q24" fill="#ff5a00" stroke="#ff5a00" stroke-width="2.61"/>
<use href="#q24" fill="#ffa000" stroke="#ffa000" stroke-width="2.32"/>
<use href="#q24" fill="#ffff00" stroke="#ffff00" stroke-width="2.03"/>
<use href="#q24" fill="#80ff00" stroke="#80ff00" stroke-width="1.74"/>
<use href="#q24" fill="#00f088" stroke="#00f088" stroke-width="1.45"/>
<use href="#q24" fill="#00ffff" stroke="#00ffff" stroke-width="1.16"/>
<use href="#q24" fill="#0064ff" stroke="#0064ff" stroke-width="0.87"/>
<use href="#q24" fill="#0000b4" stroke="#0000b4" stroke-width="0.58"/>
<use href="#q24" fill="#3c00a0" stroke="#3c00a0" stroke-width="0.29"/>
<use href="#q24" fill="#8000a8"/>
<path d="M136 294.2L148.1 293L160.2 291.8L172.2 291.2L184.3 290.6L196.4 290L208.5 289.4L215 289.1L215 314L136 314Z" fill="#f0202a"/>
<path d="M136 295.4L148.1 294.4L160.2 293.2L172.2 292.4L184.3 291.8L196.4 291.5L208.5 290.8L215 290.6L215 314L136 314Z" fill="#ff5a00"/>
<path d="M136 296.6L148.1 295.8L160.2 294.8L172.2 293.9L184.3 293.2L196.4 293L208.5 292.4L215 292L215 314L136 314Z" fill="#ffff00"/>
<path d="M136 298.4L148.1 297.6L160.2 296.6L172.2 295.4L184.3 294.8L196.4 294.2L208.5 293.6L215 293.2L215 314L136 314Z" fill="#80ff00"/>
<path d="M136 300.2L148.1 299L160.2 297.8L172.2 296.6L184.3 296L196.4 295.4L208.5 294.8L215 294.2L215 314L136 314Z" fill="#00f088"/>
<path d="M136 302L148.1 300.8L160.2 299.6L172.2 298.4L184.3 297.2L196.4 296.6L208.5 296L215 295.4L215 314L136 314Z" fill="#00ffff"/>
<path d="M136 304.5L148.1 303.9L160.2 302L172.2 300.2L178.3 299L190.4 297.8L202.4 296.6L215 296L215 314L136 314Z" fill="#0064ff"/>
<path d="M154.1 307.5L166.2 305.1L178.3 301.4L190.4 299.6L202.4 298.4L215 297.8L215 314L154.1 314Z" fill="#0000b4"/>
<path d="M178.3 302.6L184.3 300.2L196.4 299L208.5 297.8L215 297.2L215 307.5L202.4 307.5L190.4 306.3Z" fill="#3c00a0"/>
<path d="M186.7 305.1L196.4 302.6L208.5 300.8L215 300.2L215 307.5L202.4 308.7L190.4 308.1Z" fill="#8000a8"/>
<path d="M136 308.7L148.1 308.1L160.2 308.7L172.2 309.9L178.3 312.3L178.3 314L136 314Z" fill="#00ffff"/>
<path d="M136 312.3L148.1 311.8L160.2 312.3L172.2 313L174.7 314L136 314Z" fill="#0064ff"/>
<path d="M175.9 314L179.5 310.5L190.4 308.9L202.4 309.2L215 308.9L215 314Z" fill="#0000b4"/>
<use href="#q25" fill="#00f088" stroke="#00f088" stroke-width="2.42"/>
<use href="#q25" fill="#80ff00"/>
</g>
<g clip-path="url(#t5)">
<rect x="215" y="235" width="79" height="79" fill="#ffaaaa"/>
<use href="#q26" fill="#f0202a" stroke="#f0202a" stroke-width="1.45"/>
<use href="#q26" fill="#ff5a00" stroke="#ff5a00" stroke-width="1.30"/>
<use href="#q26" fill="#ffa000" stroke="#ffa000" stroke-width="1.16"/>
<use href="#q26" fill="#ffff00" stroke="#ffff00" stroke-width="1.01"/>
<use href="#q26" fill="#80ff00" stroke="#80ff00" stroke-width="0.87"/>
<use href="#q26" fill="#00f088" stroke="#00f088" stroke-width="0.72"/>
<use href="#q26" fill="#00ffff" stroke="#00ffff" stroke-width="0.58"/>
<use href="#q26" fill="#0064ff" stroke="#0064ff" stroke-width="0.43"/>
<use href="#q26" fill="#0000b4" stroke="#0000b4" stroke-width="0.29"/>
<use href="#q26" fill="#3c00a0" stroke="#3c00a0" stroke-width="0.14"/>
<use href="#q26" fill="#8000a8"/>
<use href="#q27" fill="#f0202a" stroke="#f0202a" stroke-width="1.93"/>
<use href="#q27" fill="#ff5a00" stroke="#ff5a00" stroke-width="1.29"/>
<use href="#q27" fill="#ffa000" stroke="#ffa000" stroke-width="0.64"/>
<use href="#q27" fill="#ffff00"/>
<use href="#q28" fill="#f0202a" stroke="#f0202a" stroke-width="3.38"/>
<use href="#q28" fill="#ff5a00" stroke="#ff5a00" stroke-width="2.90"/>
<use href="#q28" fill="#ffa000" stroke="#ffa000" stroke-width="2.42"/>
<use href="#q28" fill="#ffff00" stroke="#ffff00" stroke-width="1.93"/>
<use href="#q28" fill="#80ff00" stroke="#80ff00" stroke-width="1.45"/>
<use href="#q28" fill="#00f088" stroke="#00f088" stroke-width="0.97"/>
<use href="#q28" fill="#00ffff" stroke="#00ffff" stroke-width="0.48"/>
<use href="#q28" fill="#0064ff"/>
<use href="#q29" fill="#0000b4" stroke="#0000b4" stroke-width="1.93"/>
<use href="#q29" fill="#3c00a0" stroke="#3c00a0" stroke-width="0.97"/>
<use href="#q29" fill="#8000a8"/>
<use href="#q30" fill="#f0202a" stroke="#f0202a" stroke-width="2.42"/>
<use href="#q30" fill="#ff5a00" stroke="#ff5a00" stroke-width="2.17"/>
<use href="#q30" fill="#ffa000" stroke="#ffa000" stroke-width="1.93"/>
<use href="#q30" fill="#ffff00" stroke="#ffff00" stroke-width="1.69"/>
<use href="#q30" fill="#80ff00" stroke="#80ff00" stroke-width="1.45"/>
<use href="#q30" fill="#00f088" stroke="#00f088" stroke-width="1.21"/>
<use href="#q30" fill="#00ffff" stroke="#00ffff" stroke-width="0.97"/>
<use href="#q30" fill="#0064ff" stroke="#0064ff" stroke-width="0.72"/>
<use href="#q30" fill="#0000b4" stroke="#0000b4" stroke-width="0.48"/>
<use href="#q30" fill="#3c00a0" stroke="#3c00a0" stroke-width="0.24"/>
<use href="#q30" fill="#8000a8"/>
<use href="#q31" fill="#f0202a" stroke="#f0202a" stroke-width="2.90"/>
<use href="#q31" fill="#ff5a00" stroke="#ff5a00" stroke-width="1.93"/>
<use href="#q31" fill="#ffa000" stroke="#ffa000" stroke-width="0.97"/>
<use href="#q31" fill="#ffff00"/>
<path d="M219.8 277.3L227.1 276.1L233.1 276.7L229.5 278.5L222.2 278.7Z" fill="#f0202a"/>
<use href="#q32" fill="#80ff00" stroke="#80ff00" stroke-width="6.76"/>
<use href="#q32" fill="#00f088" stroke="#00f088" stroke-width="5.64"/>
<use href="#q32" fill="#00ffff" stroke="#00ffff" stroke-width="4.51"/>
<use href="#q32" fill="#0064ff" stroke="#0064ff" stroke-width="3.38"/>
<use href="#q32" fill="#0000b4" stroke="#0000b4" stroke-width="2.25"/>
<use href="#q32" fill="#3c00a0" stroke="#3c00a0" stroke-width="1.13"/>
<use href="#q32" fill="#8000a8"/>
<use href="#q33" fill="#80ff00" stroke="#80ff00" stroke-width="6.76"/>
<use href="#q33" fill="#00f088" stroke="#00f088" stroke-width="5.64"/>
<use href="#q33" fill="#00ffff" stroke="#00ffff" stroke-width="4.51"/>
<use href="#q33" fill="#0064ff" stroke="#0064ff" stroke-width="3.38"/>
<use href="#q33" fill="#0000b4" stroke="#0000b4" stroke-width="2.25"/>
<use href="#q33" fill="#3c00a0" stroke="#3c00a0" stroke-width="1.13"/>
<use href="#q33" fill="#8000a8"/>
<path d="M215 288.1L222.2 286.9L229.5 288.8L239.2 290L251.2 290.6L263.3 290L275.4 289.4L287.5 290L294 290.6L294 291.8L215 291.8Z" fill="#f0202a"/>
<path d="M217.4 290L222.2 288.8L227.1 290L222.2 291.2Z" fill="#ffff00"/>
<use href="#q34" fill="#f0202a" stroke="#f0202a" stroke-width="7.25"/>
<use href="#q34" fill="#ff5a00" stroke="#ff5a00" stroke-width="6.52"/>
<use href="#q34" fill="#ffa000" stroke="#ffa000" stroke-width="5.80"/>
<use href="#q34" fill="#ffff00" stroke="#ffff00" stroke-width="5.07"/>
<use href="#q34" fill="#80ff00" stroke="#80ff00" stroke-width="4.35"/>
<use href="#q34" fill="#00f088" stroke="#00f088" stroke-width="3.62"/>
<use href="#q34" fill="#00ffff" stroke="#00ffff" stroke-width="2.90"/>
<use href="#q34" fill="#0064ff" stroke="#0064ff" stroke-width="2.17"/>
<use href="#q34" fill="#0000b4" stroke="#0000b4" stroke-width="1.45"/>
<use href="#q34" fill="#3c00a0" stroke="#3c00a0" stroke-width="0.72"/>
<use href="#q34" fill="#8000a8"/>
<use href="#q35" fill="#3c00a0" stroke="#3c00a0" stroke-width="9.66"/>
<use href="#q35" fill="#0000b4" stroke="#0000b4" stroke-width="8.05"/>
<use href="#q35" fill="#0064ff" stroke="#0064ff" stroke-width="6.44"/>
<use href="#q35" fill="#00ffff" stroke="#00ffff" stroke-width="4.83"/>
<use href="#q35" fill="#00f088" stroke="#00f088" stroke-width="3.22"/>
<use href="#q35" fill="#80ff00" stroke="#80ff00" stroke-width="1.61"/>
<use href="#q35" fill="#ffff00"/>
<path d="M273 305.7L277.8 303.5L287.5 303.5L292.3 305.1L287.5 307.2L277.8 307.2Z" fill="#ffa000"/>
<use href="#q36" fill="#3c00a0" stroke="#3c00a0" stroke-width="2.90"/>
<use href="#q36" fill="#0000b4" stroke="#0000b4" stroke-width="2.17"/>
<use href="#q36" fill="#0064ff" stroke="#0064ff" stroke-width="1.45"/>
<use href="#q36" fill="#00ffff" stroke="#00ffff" stroke-width="0.72"/>
<use href="#q36" fill="#00f088"/>
<path d="M217.4 314L219.8 311.3L229.5 311.1L239.2 312.3L241.6 314Z" fill="#f0202a"/>
</g>
<g clip-path="url(#t6)">
<rect x="294" y="235" width="79" height="79" fill="#ffaaaa"/>
<use href="#q37" fill="#f0202a" stroke="#f0202a" stroke-width="1.45"/>
<use href="#q37" fill="#ff5a00" stroke="#ff5a00" stroke-width="1.30"/>
<use href="#q37" fill="#ffa000" stroke="#ffa000" stroke-width="1.16"/>
<use href="#q37" fill="#ffff00" stroke="#ffff00" stroke-width="1.01"/>
<use href="#q37" fill="#80ff00" stroke="#80ff00" stroke-width="0.87"/>
<use href="#q37" fill="#00f088" stroke="#00f088" stroke-width="0.72"/>
<use href="#q37" fill="#00ffff" stroke="#00ffff" stroke-width="0.58"/>
<use href="#q37" fill="#0064ff" stroke="#0064ff" stroke-width="0.43"/>
<use href="#q37" fill="#0000b4" stroke="#0000b4" stroke-width="0.29"/>
<use href="#q37" fill="#3c00a0" stroke="#3c00a0" stroke-width="0.14"/>
<use href="#q37" fill="#8000a8"/>
<use href="#q38" fill="#f0202a" stroke="#f0202a" stroke-width="1.93"/>
<use href="#q38" fill="#ff5a00" stroke="#ff5a00" stroke-width="1.74"/>
<use href="#q38" fill="#ffa000" stroke="#ffa000" stroke-width="1.55"/>
<use href="#q38" fill="#ffff00" stroke="#ffff00" stroke-width="1.35"/>
<use href="#q38" fill="#80ff00" stroke="#80ff00" stroke-width="1.16"/>
<use href="#q38" fill="#00f088" stroke="#00f088" stroke-width="0.97"/>
<use href="#q38" fill="#00ffff" stroke="#00ffff" stroke-width="0.77"/>
<use href="#q38" fill="#0064ff" stroke="#0064ff" stroke-width="0.58"/>
<use href="#q38" fill="#0000b4" stroke="#0000b4" stroke-width="0.39"/>
<use href="#q38" fill="#3c00a0" stroke="#3c00a0" stroke-width="0.19"/>
<use href="#q38" fill="#8000a8"/>
<path d="M294 268.8L306.1 270.6L318.2 272.4L330.2 273.9L330.2 275.3L318.2 274.1L306.1 272.7L294 271.5Z" fill="#f0202a"/>
<path d="M294 271.2L301.2 271.8L309.7 274.9L313.3 279.7L309.7 282.1L306.1 278.5L300 274.9L294 274.3Z" fill="#f0202a"/>
<path d="M294 274.3L300 274.9L306.1 278.5L307.3 280.9L302.5 280.9L297.6 278.5L294 277.3Z" fill="#ffa000"/>
<use href="#q39" fill="#80ff00" stroke="#80ff00" stroke-width="2.42"/>
<use href="#q39" fill="#00f088" stroke="#00f088" stroke-width="1.21"/>
<use href="#q39" fill="#00ffff"/>
<path d="M307.3 283.3L313.3 282.7L318.2 280.9L324.2 282.7L321.8 285.7L315.7 288.1L310.9 291.8L306.1 291.8Z" fill="#f0202a"/>
<path d="M294 288.1L301.2 288.1L306.1 290L301.2 291.8L294 292.4Z" fill="#ff5a00"/>
<path d="M330.2 273.9L342.3 275.1L354.4 276.3L366.5 277.5L373 278.1L373 279.1L366.5 278.7L354.4 277.5L342.3 276.3L332.7 275.5Z" fill="#f0202a"/>
<path d="M312.1 288.1L318.2 290L330.2 289.4L342.3 289L354.4 289.4L366.5 289.6L373 290L373 291.2L354.4 290.6L342.3 290.3L330.2 290.8L318.2 291.8L312.1 291.8Z" fill="#f0202a"/>
<path d="M306.1 281.5L312.1 280.9L318.2 282.1L312.1 285.7L308.5 288.1L306.1 285.7Z" fill="#ffff00"/>
<use href="#q40" fill="#f0202a" stroke="#f0202a" stroke-width="7.25"/>
<use href="#q40" fill="#ff5a00" stroke="#ff5a00" stroke-width="6.52"/>
<use href="#q40" fill="#ffa000" stroke="#ffa000" stroke-width="5.80"/>
<use href="#q40" fill="#ffff00" stroke="#ffff00" stroke-width="5.07"/>
<use href="#q40" fill="#80ff00" stroke="#80ff00" stroke-width="4.35"/>
<use href="#q40" fill="#00f088" stroke="#00f088" stroke-width="3.62"/>
<use href="#q40" fill="#00ffff" stroke="#00ffff" stroke-width="2.90"/>
<use href="#q40" fill="#0064ff" stroke="#0064ff" stroke-width="2.17"/>
<use href="#q40" fill="#0000b4" stroke="#0000b4" stroke-width="1.45"/>
<use href="#q40" fill="#3c00a0" stroke="#3c00a0" stroke-width="0.72"/>
<use href="#q40" fill="#8000a8"/>
<path d="M303.7 293L318.2 290.8L330.2 290.2L342.3 289.6L354.4 289.8L366.5 290.2L373 290.3L373 306.5L354.4 305.3L342.3 304.1L330.2 302.3L318.2 299.9L306.1 296.8Z" fill="#ffaaaa"/>
<path d="M294 291.8L303.7 291.8L306.1 296.8L318.2 299.9L330.2 302.3L342.3 304.1L354.4 305.3L373 306.5L373 314L294 314Z" fill="#ffff00"/>
<path d="M294 295.4L298.8 297.8L301.2 302.6L310.9 305.1L324.2 307.5L330.2 309.9L324.2 314L294 314Z" fill="#80ff00"/>
<path d="M294 296L296.4 297.8L297.6 300.8L294 301.4Z" fill="#00ffff"/>
<path d="M294 306.3L301.2 305.7L308.5 307.5L312.1 309.9L306.1 311.1L294 310.5Z" fill="#ffa000"/>
<path d="M294 311.1L306.1 311.3L318.2 312.3L318.2 314L294 314Z" fill="#ffff00"/>
<path d="M324.2 314L330.2 310.1L342.3 308.3L354.4 307.7L373 307.5L373 314Z" fill="#00ffff"/>
<path d="M335.1 314L342.3 310.9L354.4 309.7L373 309.3L373 314Z" fill="#0064ff"/>
<path d="M344.7 314L352 312.1L361.6 311.1L373 310.9L373 314Z" fill="#8000a8"/>
</g>
<g clip-path="url(#t7)">
<rect x="373" y="235" width="79" height="79" fill="#ffaaaa"/>
<use href="#q41" fill="#f0202a" stroke="#f0202a" stroke-width="1.45"/>
<use href="#q41" fill="#ff5a00" stroke="#ff5a00" stroke-width="1.30"/>
<use href="#q41" fill="#ffa000" stroke="#ffa000" stroke-width="1.16"/>
<use href="#q41" fill="#ffff00" stroke="#ffff00" stroke-width="1.01"/>
<use href="#q41" fill="#80ff00" stroke="#80ff00" stroke-width="0.87"/>
<use href="#q41" fill="#00f088" stroke="#00f088" stroke-width="0.72"/>
<use href="#q41" fill="#00ffff" stroke="#00ffff" stroke-width="0.58"/>
<use href="#q41" fill="#0064ff" stroke="#0064ff" stroke-width="0.43"/>
<use href="#q41" fill="#0000b4" stroke="#0000b4" stroke-width="0.29"/>
<use href="#q41" fill="#3c00a0" stroke="#3c00a0" stroke-width="0.14"/>
<use href="#q41" fill="#8000a8"/>
<use href="#q42" fill="#3c00a0" stroke="#3c00a0" stroke-width="2.90"/>
<use href="#q42" fill="#0000b4" stroke="#0000b4" stroke-width="2.61"/>
<use href="#q42" fill="#0064ff" stroke="#0064ff" stroke-width="2.32"/>
<use href="#q42" fill="#00ffff" stroke="#00ffff" stroke-width="2.03"/>
<use href="#q42" fill="#00f088" stroke="#00f088" stroke-width="1.74"/>
<use href="#q42" fill="#80ff00" stroke="#80ff00" stroke-width="1.45"/>
<use href="#q42" fill="#ffff00" stroke="#ffff00" stroke-width="1.16"/>
<use href="#q42" fill="#ffa000" stroke="#ffa000" stroke-width="0.87"/>
<use href="#q42" fill="#ff5a00" stroke="#ff5a00" stroke-width="0.58"/>
<use href="#q42" fill="#f0202a" stroke="#f0202a" stroke-width="0.29"/>
<use href="#q42" fill="#ffaaaa"/>
<use href="#q43" fill="#f0202a" stroke="#f0202a" stroke-width="1.45"/>
<use href="#q43" fill="#ff5a00" stroke="#ff5a00" stroke-width="1.30"/>
<use href="#q43" fill="#ffa000" stroke="#ffa000" stroke-width="1.16"/>
<use href="#q43" fill="#ffff00" stroke="#ffff00" stroke-width="1.01"/>
<use href="#q43" fill="#80ff00" stroke="#80ff00" stroke-width="0.87"/>
<use href="#q43" fill="#00f088" stroke="#00f088" stroke-width="0.72"/>
<use href="#q43" fill="#00ffff" stroke="#00ffff" stroke-width="0.58"/>
<use href="#q43" fill="#0064ff" stroke="#0064ff" stroke-width="0.43"/>
<use href="#q43" fill="#0000b4" stroke="#0000b4" stroke-width="0.29"/>
<use href="#q43" fill="#3c00a0" stroke="#3c00a0" stroke-width="0.14"/>
<use href="#q43" fill="#8000a8"/>
<use href="#q44" fill="#f0202a" stroke="#f0202a" stroke-width="3.38"/>
<use href="#q44" fill="#ff5a00" stroke="#ff5a00" stroke-width="1.69"/>
<use href="#q44" fill="#ffa000"/>
<path d="M391.1 282.4L397.8 283.6L401.4 288.1L405 296.8L403.2 297.2L399 289.4L394.7 285.1Z" fill="#ffff00"/>
<path d="M399 288.1L401.4 288.8L405 296L403.8 296.4Z" fill="#80ff00"/>
<use href="#q45" fill="#f0202a" stroke="#f0202a" stroke-width="2.42"/>
<use href="#q45" fill="#ff5a00" stroke="#ff5a00" stroke-width="1.21"/>
<use href="#q45" fill="#ffa000"/>
<use href="#q46" fill="#f0202a" stroke="#f0202a" stroke-width="4.83"/>
<use href="#q46" fill="#ff5a00" stroke="#ff5a00" stroke-width="4.14"/>
<use href="#q46" fill="#ffa000" stroke="#ffa000" stroke-width="3.45"/>
<use href="#q46" fill="#ffff00" stroke="#ffff00" stroke-width="2.76"/>
<use href="#q46" fill="#80ff00" stroke="#80ff00" stroke-width="2.07"/>
<use href="#q46" fill="#00f088" stroke="#00f088" stroke-width="1.38"/>
<use href="#q46" fill="#00ffff" stroke="#00ffff" stroke-width="0.69"/>
<use href="#q46" fill="#0064ff"/>
<path d="M373 281.5L376 282.1L376.6 283.6L373 284.5Z" fill="#0000b4"/>
<use href="#q47" fill="#f0202a" stroke="#f0202a" stroke-width="7.25"/>
<use href="#q47" fill="#ff5a00" stroke="#ff5a00" stroke-width="6.52"/>
<use href="#q47" fill="#ffa000" stroke="#ffa000" stroke-width="5.80"/>
<use href="#q47" fill="#ffff00" stroke="#ffff00" stroke-width="5.07"/>
<use href="#q47" fill="#80ff00" stroke="#80ff00" stroke-width="4.35"/>
<use href="#q47" fill="#00f088" stroke="#00f088" stroke-width="3.62"/>
<use href="#q47" fill="#00ffff" stroke="#00ffff" stroke-width="2.90"/>
<use href="#q47" fill="#0064ff" stroke="#0064ff" stroke-width="2.17"/>
<use href="#q47" fill="#0000b4" stroke="#0000b4" stroke-width="1.45"/>
<use href="#q47" fill="#3c00a0" stroke="#3c00a0" stroke-width="0.72"/>
<use href="#q47" fill="#8000a8"/>
<path d="M373 306.9L385.1 306.3L397.2 306.9L409.2 307.5L421.3 308.7L433.4 309.9L445.5 310.5L452 310.9L452 314L373 314Z" fill="#f0202a"/>
<path d="M373 308.7L385.1 308.1L397.2 308.9L409.2 310.5L418.9 312.3L421.3 314L373 314Z" fill="#ffff00"/>
<path d="M373 310.5L385.1 310.1L397.2 311.1L406.8 312.9L409.2 314L373 314Z" fill="#00ffff"/>
<use href="#q48" fill="#0064ff" stroke="#0064ff" stroke-width="2.42"/>
<use href="#q48" fill="#0000b4" stroke="#0000b4" stroke-width="1.61"/>
<use href="#q48" fill="#3c00a0" stroke="#3c00a0" stroke-width="0.81"/>
<use href="#q48" fill="#8000a8"/>
<path d="M409.2 314L415.3 311.7L427.4 311.3L439.4 312.3L452 312.3L452 314Z" fill="#ffa000"/>
</g>
<g clip-path="url(#t8)">
<rect x="452" y="235" width="79" height="79" fill="#ffaaaa"/>
<use href="#q49" fill="#f0202a" stroke="#f0202a" stroke-width="1.45"/>
<use href="#q49" fill="#ff5a00" stroke="#ff5a00" stroke-width="1.09"/>
<use href="#q49" fill="#ffa000" stroke="#ffa000" stroke-width="0.72"/>
<use href="#q49" fill="#ffff00" stroke="#ffff00" stroke-width="0.36"/>
<use href="#q49" fill="#80ff00"/>
<use href="#q50" fill="#f0202a" stroke="#f0202a" stroke-width="2.90"/>
<use href="#q50" fill="#ff5a00" stroke="#ff5a00" stroke-width="2.42"/>
<use href="#q50" fill="#ffa000" stroke="#ffa000" stroke-width="1.93"/>
<use href="#q50" fill="#ffff00" stroke="#ffff00" stroke-width="1.45"/>
<use href="#q50" fill="#80ff00" stroke="#80ff00" stroke-width="0.97"/>
<use href="#q50" fill="#00f088" stroke="#00f088" stroke-width="0.48"/>
<use href="#q50" fill="#00ffff"/>
<path d="M455.6 242.5L459.2 242L462.9 242.5L459.2 243.5L455.6 243.5Z" fill="#0064ff"/>
<use href="#q51" fill="#f0202a" stroke="#f0202a" stroke-width="1.93"/>
<use href="#q51" fill="#ff5a00" stroke="#ff5a00" stroke-width="1.74"/>
<use href="#q51" fill="#ffa000" stroke="#ffa000" stroke-width="1.55"/>
<use href="#q51" fill="#ffff00" stroke="#ffff00" stroke-width="1.35"/>
<use href="#q51" fill="#80ff00" stroke="#80ff00" stroke-width="1.16"/>
<use href="#q51" fill="#00f088" stroke="#00f088" stroke-width="0.97"/>
<use href="#q51" fill="#00ffff" stroke="#00ffff" stroke-width="0.77"/>
<use href="#q51" fill="#0064ff" stroke="#0064ff" stroke-width="0.58"/>
<use href="#q51" fill="#0000b4" stroke="#0000b4" stroke-width="0.39"/>
<use href="#q51" fill="#3c00a0" stroke="#3c00a0" stroke-width="0.19"/>
<use href="#q51" fill="#8000a8"/>
<use href="#q52" fill="#f0202a" stroke="#f0202a" stroke-width="1.93"/>
<use href="#q52" fill="#ff5a00" stroke="#ff5a00" stroke-width="1.74"/>
<use href="#q52" fill="#ffa000" stroke="#ffa000" stroke-width="1.55"/>
<use href="#q52" fill="#ffff00" stroke="#ffff00" stroke-width="1.35"/>
<use href="#q52" fill="#80ff00" stroke="#80ff00" stroke-width="1.16"/>
<use href="#q52" fill="#00f088" stroke="#00f088" stroke-width="0.97"/>
<use href="#q52" fill="#00ffff" stroke="#00ffff" stroke-width="0.77"/>
<use href="#q52" fill="#0064ff" stroke="#0064ff" stroke-width="0.58"/>
<use href="#q52" fill="#0000b4" stroke="#0000b4" stroke-width="0.39"/>
<use href="#q52" fill="#3c00a0" stroke="#3c00a0" stroke-width="0.19"/>
<use href="#q52" fill="#8000a8"/>
<use href="#q53" fill="#f0202a" stroke="#f0202a" stroke-width="1.93"/>
<use href="#q53" fill="#ff5a00" stroke="#ff5a00" stroke-width="1.74"/>
<use href="#q53" fill="#ffa000" stroke="#ffa000" stroke-width="1.55"/>
<use href="#q53" fill="#ffff00" stroke="#ffff00" stroke-width="1.35"/>
<use href="#q53" fill="#80ff00" stroke="#80ff00" stroke-width="1.16"/>
<use href="#q53" fill="#00f088" stroke="#00f088" stroke-width="0.97"/>
<use href="#q53" fill="#00ffff" stroke="#00ffff" stroke-width="0.77"/>
<use href="#q53" fill="#0064ff" stroke="#0064ff" stroke-width="0.58"/>
<use href="#q53" fill="#0000b4" stroke="#0000b4" stroke-width="0.39"/>
<use href="#q53" fill="#3c00a0" stroke="#3c00a0" stroke-width="0.19"/>
<use href="#q53" fill="#8000a8"/>
<use href="#q54" fill="#f0202a" stroke="#f0202a" stroke-width="1.45"/>
<use href="#q54" fill="#ff5a00" stroke="#ff5a00" stroke-width="0.97"/>
<use href="#q54" fill="#ffa000" stroke="#ffa000" stroke-width="0.48"/>
<use href="#q54" fill="#ffff00"/>
<path d="M452 314L455.6 309.9L464.1 307.5L476.2 306.9L488.2 307.2L500.3 307.5L512.4 308.1L524.5 309.3L531 309.9L531 314Z" fill="#f0202a"/>
<path d="M459.2 314L464.1 311.1L476.2 309.3L488.2 308.9L500.3 309.3L512.4 310.5L524.5 312.3L526.9 314Z" fill="#ffff00"/>
<path d="M467.7 314L473.7 311.7L488.2 310.5L500.3 310.9L512.4 312.9L514.8 314Z" fill="#80ff00"/>
<path d="M476.2 314L483.4 312.3L494.3 312.1L503.9 313.3L506.4 314Z" fill="#00ffff"/>
<path d="M483.4 314L488.2 313.3L497.9 313.3L500.3 314Z" fill="#0064ff"/>
</g>
<g clip-path="url(#t9)">
<rect x="531" y="235" width="79" height="79" fill="#8000a8"/>
<use href="#q55" fill="#3c00a0" stroke="#3c00a0" stroke-width="1.93"/>
<use href="#q55" fill="#0000b4" stroke="#0000b4" stroke-width="1.74"/>
<use href="#q55" fill="#0064ff" stroke="#0064ff" stroke-width="1.55"/>
<use href="#q55" fill="#00ffff" stroke="#00ffff" stroke-width="1.35"/>
<use href="#q55" fill="#00f088" stroke="#00f088" stroke-width="1.16"/>
<use href="#q55" fill="#80ff00" stroke="#80ff00" stroke-width="0.97"/>
<use href="#q55" fill="#ffff00" stroke="#ffff00" stroke-width="0.77"/>
<use href="#q55" fill="#ffa000" stroke="#ffa000" stroke-width="0.58"/>
<use href="#q55" fill="#ff5a00" stroke="#ff5a00" stroke-width="0.39"/>
<use href="#q55" fill="#f0202a" stroke="#f0202a" stroke-width="0.19"/>
<use href="#q55" fill="#ffaaaa"/>
<use href="#q56" fill="#f0202a" stroke="#f0202a" stroke-width="1.45"/>
<use href="#q56" fill="#ff5a00" stroke="#ff5a00" stroke-width="1.30"/>
<use href="#q56" fill="#ffa000" stroke="#ffa000" stroke-width="1.16"/>
<use href="#q56" fill="#ffff00" stroke="#ffff00" stroke-width="1.01"/>
<use href="#q56" fill="#80ff00" stroke="#80ff00" stroke-width="0.87"/>
<use href="#q56" fill="#00f088" stroke="#00f088" stroke-width="0.72"/>
<use href="#q56" fill="#00ffff" stroke="#00ffff" stroke-width="0.58"/>
<use href="#q56" fill="#0064ff" stroke="#0064ff" stroke-width="0.43"/>
<use href="#q56" fill="#0000b4" stroke="#0000b4" stroke-width="0.29"/>
<use href="#q56" fill="#3c00a0" stroke="#3c00a0" stroke-width="0.14"/>
<use href="#q56" fill="#8000a8"/>
<use href="#q57" fill="#3c00a0" stroke="#3c00a0" stroke-width="2.42"/>
<use href="#q57" fill="#0000b4" stroke="#0000b4" stroke-width="2.17"/>
<use href="#q57" fill="#0064ff" stroke="#0064ff" stroke-width="1.93"/>
<use href="#q57" fill="#00ffff" stroke="#00ffff" stroke-width="1.69"/>
<use href="#q57" fill="#00f088" stroke="#00f088" stroke-width="1.45"/>
<use href="#q57" fill="#80ff00" stroke="#80ff00" stroke-width="1.21"/>
<use href="#q57" fill="#ffff00" stroke="#ffff00" stroke-width="0.97"/>
<use href="#q57" fill="#ffa000" stroke="#ffa000" stroke-width="0.72"/>
<use href="#q57" fill="#ff5a00" stroke="#ff5a00" stroke-width="0.48"/>
<use href="#q57" fill="#f0202a" stroke="#f0202a" stroke-width="0.24"/>
<use href="#q57" fill="#ffaaaa"/>
<use href="#q58" fill="#3c00a0" stroke="#3c00a0" stroke-width="3.87"/>
<use href="#q58" fill="#0000b4" stroke="#0000b4" stroke-width="3.09"/>
<use href="#q58" fill="#0064ff" stroke="#0064ff" stroke-width="2.32"/>
<use href="#q58" fill="#00ffff" stroke="#00ffff" stroke-width="1.55"/>
<use href="#q58" fill="#00f088" stroke="#00f088" stroke-width="0.77"/>
<use href="#q58" fill="#80ff00"/>
<path d="M555.2 297.8L567.2 296L579.3 296.6L591.4 297.8L603.5 297.8L610 297.2L610 301.2L591.4 301.2L567.2 300.5Z" fill="#0000b4"/>
<use href="#q59" fill="#3c00a0" stroke="#3c00a0" stroke-width="3.87"/>
<use href="#q59" fill="#0000b4" stroke="#0000b4" stroke-width="2.58"/>
<use href="#q59" fill="#0064ff" stroke="#0064ff" stroke-width="1.29"/>
<use href="#q59" fill="#00ffff"/>
<use href="#q60" fill="#00f088" stroke="#00f088" stroke-width="2.90"/>
<use href="#q60" fill="#80ff00" stroke="#80ff00" stroke-width="1.45"/>
<use href="#q60" fill="#ffff00"/>
<use href="#q61" fill="#ffa000" stroke="#ffa000" stroke-width="1.45"/>
<use href="#q61" fill="#ff5a00" stroke="#ff5a00" stroke-width="0.72"/>
<use href="#q61" fill="#f0202a"/>
<use href="#q62" fill="#ffa000" stroke="#ffa000" stroke-width="1.45"/>
<use href="#q62" fill="#ff5a00" stroke="#ff5a00" stroke-width="0.72"/>
<use href="#q62" fill="#f0202a"/>
<path d="M599.9 293.6L603.5 293L608.3 293.6L605.9 295.4L601.1 295.4Z" fill="#0064ff"/>
<use href="#q63" fill="#3c00a0" stroke="#3c00a0" stroke-width="2.42"/>
<use href="#q63" fill="#0000b4" stroke="#0000b4" stroke-width="2.17"/>
<use href="#q63" fill="#0064ff" stroke="#0064ff" stroke-width="1.93"/>
<use href="#q63" fill="#00ffff" stroke="#00ffff" stroke-width="1.69"/>
<use href="#q63" fill="#00f088" stroke="#00f088" stroke-width="1.45"/>
<use href="#q63" fill="#80ff00" stroke="#80ff00" stroke-width="1.21"/>
<use href="#q63" fill="#ffff00" stroke="#ffff00" stroke-width="0.97"/>
<use href="#q63" fill="#ffa000" stroke="#ffa000" stroke-width="0.72"/>
<use href="#q63" fill="#ff5a00" stroke="#ff5a00" stroke-width="0.48"/>
<use href="#q63" fill="#f0202a" stroke="#f0202a" stroke-width="0.24"/>
<use href="#q63" fill="#ffaaaa"/>
<use href="#q64" fill="#f0202a" stroke="#f0202a" stroke-width="1.93"/>
<use href="#q64" fill="#ff5a00" stroke="#ff5a00" stroke-width="1.29"/>
<use href="#q64" fill="#ffa000" stroke="#ffa000" stroke-width="0.64"/>
<use href="#q64" fill="#ffff00"/>
<path d="M567.2 314L569.7 312.9L579.3 312.9L581.7 314Z" fill="#80ff00"/>
</g>
<g clip-path="url(#t10)">
<rect x="610" y="235" width="79" height="79" fill="#8000a8"/>
<use href="#q65" fill="#3c00a0" stroke="#3c00a0" stroke-width="1.93"/>
<use href="#q65" fill="#0000b4" stroke="#0000b4" stroke-width="1.74"/>
<use href="#q65" fill="#0064ff" stroke="#0064ff" stroke-width="1.55"/>
<use href="#q65" fill="#00ffff" stroke="#00ffff" stroke-width="1.35"/>
<use href="#q65" fill="#00f088" stroke="#00f088" stroke-width="1.16"/>
<use href="#q65" fill="#80ff00" stroke="#80ff00" stroke-width="0.97"/>
<use href="#q65" fill="#ffff00" stroke="#ffff00" stroke-width="0.77"/>
<use href="#q65" fill="#ffa000" stroke="#ffa000" stroke-width="0.58"/>
<use href="#q65" fill="#ff5a00" stroke="#ff5a00" stroke-width="0.39"/>
<use href="#q65" fill="#f0202a" stroke="#f0202a" stroke-width="0.19"/>
<use href="#q65" fill="#ffaaaa"/>
<use href="#q66" fill="#3c00a0" stroke="#3c00a0" stroke-width="2.42"/>
<use href="#q66" fill="#0000b4" stroke="#0000b4" stroke-width="2.17"/>
<use href="#q66" fill="#0064ff" stroke="#0064ff" stroke-width="1.93"/>
<use href="#q66" fill="#00ffff" stroke="#00ffff" stroke-width="1.69"/>
<use href="#q66" fill="#00f088" stroke="#00f088" stroke-width="1.45"/>
<use href="#q66" fill="#80ff00" stroke="#80ff00" stroke-width="1.21"/>
<use href="#q66" fill="#ffff00" stroke="#ffff00" stroke-width="0.97"/>
<use href="#q66" fill="#ffa000" stroke="#ffa000" stroke-width="0.72"/>
<use href="#q66" fill="#ff5a00" stroke="#ff5a00" stroke-width="0.48"/>
<use href="#q66" fill="#f0202a" stroke="#f0202a" stroke-width="0.24"/>
<use href="#q66" fill="#ffaaaa"/>
<use href="#q67" fill="#3c00a0" stroke="#3c00a0" stroke-width="2.42"/>
<use href="#q67" fill="#0000b4" stroke="#0000b4" stroke-width="2.17"/>
<use href="#q67" fill="#0064ff" stroke="#0064ff" stroke-width="1.93"/>
<use href="#q67" fill="#00ffff" stroke="#00ffff" stroke-width="1.69"/>
<use href="#q67" fill="#00f088" stroke="#00f088" stroke-width="1.45"/>
<use href="#q67" fill="#80ff00" stroke="#80ff00" stroke-width="1.21"/>
<use href="#q67" fill="#ffff00" stroke="#ffff00" stroke-width="0.97"/>
<use href="#q67" fill="#ffa000" stroke="#ffa000" stroke-width="0.72"/>
<use href="#q67" fill="#ff5a00" stroke="#ff5a00" stroke-width="0.48"/>
<use href="#q67" fill="#f0202a" stroke="#f0202a" stroke-width="0.24"/>
<use href="#q67" fill="#ffaaaa"/>
<use href="#q68" fill="#3c00a0" stroke="#3c00a0" stroke-width="0.97"/>
<use href="#q68" fill="#0000b4" stroke="#0000b4" stroke-width="0.48"/>
<use href="#q68" fill="#0064ff"/>
<use href="#q69" fill="#3c00a0" stroke="#3c00a0" stroke-width="2.90"/>
<use href="#q69" fill="#0000b4" stroke="#0000b4" stroke-width="2.61"/>
<use href="#q69" fill="#0064ff" stroke="#0064ff" stroke-width="2.32"/>
<use href="#q69" fill="#00ffff" stroke="#00ffff" stroke-width="2.03"/>
<use href="#q69" fill="#00f088" stroke="#00f088" stroke-width="1.74"/>
<use href="#q69" fill="#80ff00" stroke="#80ff00" stroke-width="1.45"/>
<use href="#q69" fill="#ffff00" stroke="#ffff00" stroke-width="1.16"/>
<use href="#q69" fill="#ffa000" stroke="#ffa000" stroke-width="0.87"/>
<use href="#q69" fill="#ff5a00" stroke="#ff5a00" stroke-width="0.58"/>
<use href="#q69" fill="#f0202a" stroke="#f0202a" stroke-width="0.29"/>
<use href="#q69" fill="#ffaaaa"/>
<use href="#q70" fill="#3c00a0" stroke="#3c00a0" stroke-width="2.42"/>
<use href="#q70" fill="#0000b4" stroke="#0000b4" stroke-width="2.17"/>
<use href="#q70" fill="#0064ff" stroke="#0064ff" stroke-width="1.93"/>
<use href="#q70" fill="#00ffff" stroke="#00ffff" stroke-width="1.69"/>
<use href="#q70" fill="#00f088" stroke="#00f088" stroke-width="1.45"/>
<use href="#q70" fill="#80ff00" stroke="#80ff00" stroke-width="1.21"/>
<use href="#q70" fill="#ffff00" stroke="#ffff00" stroke-width="0.97"/>
<use href="#q70" fill="#ffa000" stroke="#ffa000" stroke-width="0.72"/>
<use href="#q70" fill="#ff5a00" stroke="#ff5a00" stroke-width="0.48"/>
<use href="#q70" fill="#f0202a" stroke="#f0202a" stroke-width="0.24"/>
<use href="#q70" fill="#ffaaaa"/>
<use href="#q71" fill="#3c00a0" stroke="#3c00a0" stroke-width="3.87"/>
<use href="#q71" fill="#0000b4" stroke="#0000b4" stroke-width="3.48"/>
<use href="#q71" fill="#0064ff" stroke="#0064ff" stroke-width="3.09"/>
<use href="#q71" fill="#00ffff" stroke="#00ffff" stroke-width="2.71"/>
<use href="#q71" fill="#00f088" stroke="#00f088" stroke-width="2.32"/>
<use href="#q71" fill="#80ff00" stroke="#80ff00" stroke-width="1.93"/>
<use href="#q71" fill="#ffff00" stroke="#ffff00" stroke-width="1.55"/>
<use href="#q71" fill="#ffa000" stroke="#ffa000" stroke-width="1.16"/>
<use href="#q71" fill="#ff5a00" stroke="#ff5a00" stroke-width="0.77"/>
<use href="#q71" fill="#f0202a" stroke="#f0202a" stroke-width="0.39"/>
<use href="#q71" fill="#ffaaaa"/>
<path d="M610 294.4L622.1 293.2L634.2 293L646.2 293.6L658.3 292.7L670.4 291.8L682.5 291.2L689 291.2L689 291.8L682.5 292L670.4 292.7L658.3 293.7L646.2 294.4L634.2 293.9L622.1 294.2L610 295.4Z" fill="#f0202a"/>
<path d="M643.8 295.4L649.9 295.2L653.5 296.6L649.9 298.4L645 297.8Z" fill="#f0202a"/>
<use href="#q72" fill="#3c00a0" stroke="#3c00a0" stroke-width="1.45"/>
<use href="#q72" fill="#0000b4" stroke="#0000b4" stroke-width="0.72"/>
<use href="#q72" fill="#0064ff"/>
<use href="#q73" fill="#3c00a0" stroke="#3c00a0" stroke-width="2.42"/>
<use href="#q73" fill="#0000b4" stroke="#0000b4" stroke-width="2.17"/>
<use href="#q73" fill="#0064ff" stroke="#0064ff" stroke-width="1.93"/>
<use href="#q73" fill="#00ffff" stroke="#00ffff" stroke-width="1.69"/>
<use href="#q73" fill="#00f088" stroke="#00f088" stroke-width="1.45"/>
<use href="#q73" fill="#80ff00" stroke="#80ff00" stroke-width="1.21"/>
<use href="#q73" fill="#ffff00" stroke="#ffff00" stroke-width="0.97"/>
<use href="#q73" fill="#ffa000" stroke="#ffa000" stroke-width="0.72"/>
<use href="#q73" fill="#ff5a00" stroke="#ff5a00" stroke-width="0.48"/>
<use href="#q73" fill="#f0202a" stroke="#f0202a" stroke-width="0.24"/>
<use href="#q73" fill="#ffaaaa"/>
</g>
<g clip-path="url(#t11)">
<rect x="689" y="235" width="79" height="79" fill="#8000a8"/>
<use href="#q74" fill="#3c00a0" stroke="#3c00a0" stroke-width="2.42"/>
<use href="#q74" fill="#0000b4" stroke="#0000b4" stroke-width="2.17"/>
<use href="#q74" fill="#0064ff" stroke="#0064ff" stroke-width="1.93"/>
<use href="#q74" fill="#00ffff" stroke="#00ffff" stroke-width="1.69"/>
<use href="#q74" fill="#00f088" stroke="#00f088" stroke-width="1.45"/>
<use href="#q74" fill="#80ff00" stroke="#80ff00" stroke-width="1.21"/>
<use href="#q74" fill="#ffff00" stroke="#ffff00" stroke-width="0.97"/>
<use href="#q74" fill="#ffa000" stroke="#ffa000" stroke-width="0.72"/>
<use href="#q74" fill="#ff5a00" stroke="#ff5a00" stroke-width="0.48"/>
<use href="#q74" fill="#f0202a" stroke="#f0202a" stroke-width="0.24"/>
<use href="#q74" fill="#ffaaaa"/>
<use href="#q75" fill="#3c00a0" stroke="#3c00a0" stroke-width="3.38"/>
<use href="#q75" fill="#0000b4" stroke="#0000b4" stroke-width="3.04"/>
<use href="#q75" fill="#0064ff" stroke="#0064ff" stroke-width="2.71"/>
<use href="#q75" fill="#00ffff" stroke="#00ffff" stroke-width="2.37"/>
<use href="#q75" fill="#00f088" stroke="#00f088" stroke-width="2.03"/>
<use href="#q75" fill="#80ff00" stroke="#80ff00" stroke-width="1.69"/>
<use href="#q75" fill="#ffff00" stroke="#ffff00" stroke-width="1.35"/>
<use href="#q75" fill="#ffa000" stroke="#ffa000" stroke-width="1.01"/>
<use href="#q75" fill="#ff5a00" stroke="#ff5a00" stroke-width="0.68"/>
<use href="#q75" fill="#f0202a" stroke="#f0202a" stroke-width="0.34"/>
<use href="#q75" fill="#ffaaaa"/>
<use href="#q76" fill="#3c00a0" stroke="#3c00a0" stroke-width="2.42"/>
<use href="#q76" fill="#0000b4" stroke="#0000b4" stroke-width="2.17"/>
<use href="#q76" fill="#0064ff" stroke="#0064ff" stroke-width="1.93"/>
<use href="#q76" fill="#00ffff" stroke="#00ffff" stroke-width="1.69"/>
<use href="#q76" fill="#00f088" stroke="#00f088" stroke-width="1.45"/>
<use href="#q76" fill="#80ff00" stroke="#80ff00" stroke-width="1.21"/>
<use href="#q76" fill="#ffff00" stroke="#ffff00" stroke-width="0.97"/>
<use href="#q76" fill="#ffa000" stroke="#ffa000" stroke-width="0.72"/>
<use href="#q76" fill="#ff5a00" stroke="#ff5a00" stroke-width="0.48"/>
<use href="#q76" fill="#f0202a" stroke="#f0202a" stroke-width="0.24"/>
<use href="#q76" fill="#ffaaaa"/>
<path d="M728.9 283.3L737.3 282.1L749.4 282.4L761.5 281.9L768 281.9L768 285.1L761.5 285.5L749.4 285.7L737.3 285.5Z" fill="#ff5a00"/>
<path d="M704.7 290.6L708.3 285.7L713.2 284.5L725.2 284.5L737.3 284.8L749.4 284.5L761.5 283.9L768 283.9L768 295.4L755.4 295.4L743.4 295.2L731.3 294.8L719.2 294.8L707.1 294.4Z" fill="#ffaaaa"/>
<use href="#q77" fill="#f0202a" stroke="#f0202a" stroke-width="6.04"/>
<use href="#q77" fill="#ff5a00" stroke="#ff5a00" stroke-width="5.44"/>
<use href="#q77" fill="#ffa000" stroke="#ffa000" stroke-width="4.83"/>
<use href="#q77" fill="#ffff00" stroke="#ffff00" stroke-width="4.23"/>
<use href="#q77" fill="#80ff00" stroke="#80ff00" stroke-width="3.62"/>
<use href="#q77" fill="#00f088" stroke="#00f088" stroke-width="3.02"/>
<use href="#q77" fill="#00ffff" stroke="#00ffff" stroke-width="2.42"/>
<use href="#q77" fill="#0064ff" stroke="#0064ff" stroke-width="1.81"/>
<use href="#q77" fill="#0000b4" stroke="#0000b4" stroke-width="1.21"/>
<use href="#q77" fill="#3c00a0" stroke="#3c00a0" stroke-width="0.60"/>
<use href="#q77" fill="#8000a8"/>
<use href="#q78" fill="#3c00a0" stroke="#3c00a0" stroke-width="2.42"/>
<use href="#q78" fill="#0000b4" stroke="#0000b4" stroke-width="1.61"/>
<use href="#q78" fill="#0064ff" stroke="#0064ff" stroke-width="0.81"/>
<use href="#q78" fill="#00ffff"/>
<path d="M693.8 289.1L698.7 288.8L702.3 289.4L698.7 290L695 290Z" fill="#80ff00"/>
<path d="M689 293L693.8 293.6L696.2 295.4L693.8 297.8L689 298.4Z" fill="#ffaaaa"/>
<path d="M689 299L701.1 296.6L713.2 296L725.2 296L737.3 296L749.4 295.8L768 295.8L768 314L689 314Z" fill="#f0202a"/>
<path d="M689 300.8L701.1 299L713.2 298.1L725.2 297.8L737.3 297.8L749.4 297.8L768 297.6L768 314L689 314Z" fill="#ffff00"/>
<path d="M689 302L701.1 300.8L713.2 300L725.2 299.6L737.3 299.6L749.4 300L768 300.2L768 314L689 314Z" fill="#80ff00"/>
<path d="M689 303.2L701.1 302L713.2 301.4L725.2 301.4L737.3 301.7L749.4 302.6L768 302.6L768 314L689 314Z" fill="#00ffff"/>
<path d="M689 305.1L701.1 303.2L713.2 302.6L725.2 302.9L737.3 303.9L749.4 304.8L768 304.8L768 314L689 314Z" fill="#0064ff"/>
<use href="#q79" fill="#0000b4" stroke="#0000b4" stroke-width="2.90"/>
<use href="#q79" fill="#3c00a0" stroke="#3c00a0" stroke-width="1.45"/>
<use href="#q79" fill="#8000a8"/>
<path d="M713.2 314L715.6 311.1L725.2 309.9L737.3 309.7L749.4 309.9L761.5 310.5L768 309.9L768 314Z" fill="#00ffff"/>
<path d="M731.3 314L734.9 311.7L743.4 311.1L749.4 312.3L747 314Z" fill="#80ff00"/>
</g>
<g clip-path="url(#t12)">
<rect x="136" y="314" width="79" height="79" fill="#ffaaaa"/>
<use href="#q80" fill="#f0202a" stroke="#f0202a" stroke-width="1.45"/>
<use href="#q80" fill="#ff5a00" stroke="#ff5a00" stroke-width="1.30"/>
<use href="#q80" fill="#ffa000" stroke="#ffa000" stroke-width="1.16"/>
<use href="#q80" fill="#ffff00" stroke="#ffff00" stroke-width="1.01"/>
<use href="#q80" fill="#80ff00" stroke="#80ff00" stroke-width="0.87"/>
<use href="#q80" fill="#00f088" stroke="#00f088" stroke-width="0.72"/>
<use href="#q80" fill="#00ffff" stroke="#00ffff" stroke-width="0.58"/>
<use href="#q80" fill="#0064ff" stroke="#0064ff" stroke-width="0.43"/>
<use href="#q80" fill="#0000b4" stroke="#0000b4" stroke-width="0.29"/>
<use href="#q80" fill="#3c00a0" stroke="#3c00a0" stroke-width="0.14"/>
<use href="#q80" fill="#8000a8"/>
<path d="M136 328.3L160.2 328.7L184.3 329.7L215 330.9L215 393L136 393Z" fill="#f0202a"/>
<path d="M136 329.5L160.2 329.9L184.3 330.9L215 332.1L215 393L136 393Z" fill="#ffff00"/>
<path d="M136 330.9L160.2 331.6L184.3 332.7L215 333.3L215 393L136 393Z" fill="#80ff00"/>
<path d="M136 332.7L160.2 333.9L184.3 334.8L215 335.5L215 393L136 393Z" fill="#00ffff"/>
<path d="M136 335.1L160.2 336.1L184.3 337L215 337.6L215 393L136 393Z" fill="#0064ff"/>
<path d="M136 336.3L160.2 337.2L184.3 337.9L215 338.8L215 393L136 393Z" fill="#0000b4"/>
<path d="M136 337.6L160.2 338.2L184.3 338.8L215 339.6L215 357.5L208.5 357.7L196.4 358.9L184.3 360.1L172.2 361.1L160.2 362.3L154.1 363.5L148.1 364.7L136 364.7Z" fill="#8000a8"/>
<use href="#q81" fill="#3c00a0" stroke="#3c00a0" stroke-width="2.90"/>
<use href="#q81" fill="#0000b4" stroke="#0000b4" stroke-width="1.93"/>
<use href="#q81" fill="#0064ff" stroke="#0064ff" stroke-width="0.97"/>
<use href="#q81" fill="#00ffff"/>
<use href="#q82" fill="#00f088" stroke="#00f088" stroke-width="2.90"/>
<use href="#q82" fill="#80ff00" stroke="#80ff00" stroke-width="1.45"/>
<use href="#q82" fill="#ffff00"/>
<path d="M136 353.3L139.6 353.6L142 354.5L139.6 355.1L136 355.1Z" fill="#f0202a"/>
<path d="M142 359.9L148.1 358.7L160.2 357.7L166.2 358.9L160.2 361.7L154.1 363.8L148.1 363.8L143.2 362.3Z" fill="#0064ff"/>
<use href="#q83" fill="#f0202a" stroke="#f0202a" stroke-width="7.25"/>
<use href="#q83" fill="#ff5a00" stroke="#ff5a00" stroke-width="6.04"/>
<use href="#q83" fill="#ffa000" stroke="#ffa000" stroke-width="4.83"/>
<use href="#q83" fill="#ffff00" stroke="#ffff00" stroke-width="3.62"/>
<use href="#q83" fill="#80ff00" stroke="#80ff00" stroke-width="2.42"/>
<use href="#q83" fill="#00f088" stroke="#00f088" stroke-width="1.21"/>
<use href="#q83" fill="#00ffff"/>
<use href="#q84" fill="#3c00a0" stroke="#3c00a0" stroke-width="6.04"/>
<use href="#q84" fill="#0000b4" stroke="#0000b4" stroke-width="5.44"/>
<use href="#q84" fill="#0064ff" stroke="#0064ff" stroke-width="4.83"/>
<use href="#q84" fill="#00ffff" stroke="#00ffff" stroke-width="4.23"/>
<use href="#q84" fill="#00f088" stroke="#00f088" stroke-width="3.62"/>
<use href="#q84" fill="#80ff00" stroke="#80ff00" stroke-width="3.02"/>
<use href="#q84" fill="#ffff00" stroke="#ffff00" stroke-width="2.42"/>
<use href="#q84" fill="#ffa000" stroke="#ffa000" stroke-width="1.81"/>
<use href="#q84" fill="#ff5a00" stroke="#ff5a00" stroke-width="1.21"/>
<use href="#q84" fill="#f0202a" stroke="#f0202a" stroke-width="0.60"/>
<use href="#q84" fill="#ffaaaa"/>
<path d="M150.5 367.8L155.3 367.1L160.2 370.8L165 372L162.6 374.4L155.3 374.4L151.7 370.8Z" fill="#f0202a"/>
<use href="#q85" fill="#0064ff" stroke="#0064ff" stroke-width="2.90"/>
<use href="#q85" fill="#0000b4"/>
<path d="M148.1 384.1L160.2 381.6L172.2 379.8L184.3 378L196.4 377.4L208.5 376.8L215 376.6L215 386.5L196.4 387.7L184.3 387.1L172.2 386.5L160.2 387.1L148.1 387.7Z" fill="#8000a8"/>
<use href="#q86" fill="#0064ff" stroke="#0064ff" stroke-width="2.42"/>
<use href="#q86" fill="#0000b4" stroke="#0000b4" stroke-width="1.61"/>
<use href="#q86" fill="#3c00a0" stroke="#3c00a0" stroke-width="0.81"/>
<use href="#q86" fill="#8000a8"/>
<use href="#q87" fill="#3c00a0" stroke="#3c00a0" stroke-width="4.83"/>
<use href="#q87" fill="#0000b4" stroke="#0000b4" stroke-width="4.35"/>
<use href="#q87" fill="#0064ff" stroke="#0064ff" stroke-width="3.87"/>
<use href="#q87" fill="#00ffff" stroke="#00ffff" stroke-width="3.38"/>
<use href="#q87" fill="#00f088" stroke="#00f088" stroke-width="2.90"/>
<use href="#q87" fill="#80ff00" stroke="#80ff00" stroke-width="2.42"/>
<use href="#q87" fill="#ffff00" stroke="#ffff00" stroke-width="1.93"/>
<use href="#q87" fill="#ffa000" stroke="#ffa000" stroke-width="1.45"/>
<use href="#q87" fill="#ff5a00" stroke="#ff5a00" stroke-width="0.97"/>
<use href="#q87" fill="#f0202a" stroke="#f0202a" stroke-width="0.48"/>
<use href="#q87" fill="#ffaaaa"/>
</g>
<g clip-path="url(#t13)">
<rect x="215" y="314" width="79" height="79" fill="#8000a8"/>
<path d="M215 314L294 314L294 322.5L275.4 321.2L263.3 320.6L251.2 320.6L239.2 320.6L227.1 320.6L215 320Z" fill="#00ffff"/>
<path d="M221 314L287.5 314L285.1 317.6L275.4 319.4L263.3 319.4L251.2 319.4L239.2 318.8L227.1 317.6Z" fill="#ffff00"/>
<path d="M227.1 314L281.4 314L277.8 317.6L263.3 318.6L251.2 318.6L239.2 317.6L229.5 316.4Z" fill="#f0202a"/>
<path d="M245.2 315.8L257.3 315.4L269.4 316.4L257.3 317.6L246.4 317.4Z" fill="#ffaaaa"/>
<path d="M215 316.4L222.2 317L227.1 318.8L222.2 320L215 320Z" fill="#0064ff"/>
<path d="M239.2 321.2L251.2 320.6L263.3 321.2L275.4 321.9L287.5 320.6L294 320L294 324.9L275.4 324.9L263.3 323.7L251.2 323.1Z" fill="#0000b4"/>
<path d="M215 321.9L239.2 322.5L263.3 324.9L281.4 327.3L289.9 330.9L294 333.3L294 338.2L287.5 338.2L263.3 335.1L239.2 334.5L215 333.9Z" fill="#f0202a"/>
<path d="M215 332.7L239.2 333.3L263.3 333.9L287.5 336.3L294 338.2L294 340L263.3 337L239.2 336.3L215 335.1Z" fill="#ffff00"/>
<path d="M215 334.3L239.2 334.8L263.3 335.7L287.5 338.2L294 340L294 341.2L263.3 338.2L239.2 337.6L215 337Z" fill="#80ff00"/>
<path d="M215 335.7L239.2 336.3L263.3 337.2L294 341.2L294 342.4L263.3 339.4L239.2 338.8L215 338.2Z" fill="#00ffff"/>
<path d="M215 337.2L239.2 337.9L263.3 338.8L294 342.4L294 343.6L263.3 340.3L239.2 340L215 339.6Z" fill="#0064ff"/>
<path d="M215 338.8L239.2 339.4L263.3 340L294 343.6L294 344.8L263.3 341.5L239.2 341.8L215 341.2Z" fill="#0000b4"/>
<path d="M215 323.1L227.1 323.4L239.2 324.3L251.2 325.5L263.3 326.7L275.4 328.5L282.6 329.7L287.5 332.1L281.4 333.3L263.3 332.7L251.2 332.1L239.2 332.1L227.1 332.1L215 332.1Z" fill="#ffaaaa"/>
<path d="M215 355.7L227.1 356.3L239.2 356.9L253.7 358.1L256.1 360.5L253.7 362.9L239.2 365.3L227.1 365.9L215 366.2Z" fill="#f0202a"/>
<path d="M215 356.9L227.1 357.2L239.2 358.1L251.2 358.7L254.9 359.9L251.2 362.3L239.2 363.5L227.1 364.1L215 364.7Z" fill="#ffaaaa"/>
<use href="#q88" fill="#3c00a0" stroke="#3c00a0" stroke-width="6.04"/>
<use href="#q88" fill="#0000b4" stroke="#0000b4" stroke-width="5.03"/>
<use href="#q88" fill="#0064ff" stroke="#0064ff" stroke-width="4.03"/>
<use href="#q88" fill="#00ffff" stroke="#00ffff" stroke-width="3.02"/>
<use href="#q88" fill="#00f088" stroke="#00f088" stroke-width="2.01"/>
<use href="#q88" fill="#80ff00" stroke="#80ff00" stroke-width="1.01"/>
<use href="#q88" fill="#ffff00"/>
<path d="M269.4 357.5L275.4 356.3L282.6 356.5L280.2 358.5L273 358.7Z" fill="#ffa000"/>
<path d="M215 367.1L227.1 365.9L239.2 365.3L251.2 364.7L263.3 364.7L275.4 365.9L287.5 367.1L294 367.8L294 374.4L275.4 373.2L251.2 372L239.2 374.4L227.1 376.8L215 378Z" fill="#00ffff"/>
<path d="M239.2 367.1L251.2 365.9L263.3 365.3L275.4 365.9L287.5 367.8L294 368.4L294 372L275.4 370.8L263.3 370.8L251.2 369.6L241.6 369.6Z" fill="#0064ff"/>
<use href="#q89" fill="#3c00a0" stroke="#3c00a0" stroke-width="2.42"/>
<use href="#q89" fill="#8000a8"/>
<path d="M215 370.8L224.7 368.4L233.1 369.6L239.2 374.4L245.2 379.2L241.6 381.6L233.1 379.2L222.2 376.8L215 376.8Z" fill="#80ff00"/>
<path d="M235.5 375L245.2 373.8L257.3 374.4L269.4 374.6L281.4 374.4L294 373.8L294 383.5L281.4 384.1L269.4 384.1L257.3 383.8L248.8 382.9L240.4 379.8Z" fill="#ffa000"/>
<path d="M236.7 376.2L245.2 375L257.3 375.6L269.4 375.8L281.4 375.6L294 375L294 382.2L281.4 382.9L269.4 382.9L257.3 382.6L248.8 381.6L241.6 379.2Z" fill="#ffaaaa"/>
<path d="M233.1 382.9L245.2 381.6L257.3 384.1L257.3 393L233.1 393Z" fill="#80ff00"/>
<path d="M239.2 386.5L248.8 385.3L254.9 388.9L251.2 393L241.6 393Z" fill="#00ffff"/>
<path d="M215 384.1L227.1 383.8L239.2 384.3L244 387.1L240.4 391.3L227.1 391.6L215 391.3Z" fill="#f0202a"/>
<path d="M215 385.3L227.1 384.7L239.2 385.3L242.8 387.7L239.2 390.1L227.1 390.3L215 390.1Z" fill="#ffaaaa"/>
<path d="M254.9 386.5L263.3 384.7L275.4 384.1L287.5 383.8L294 383.5L294 393L254.9 393Z" fill="#0000b4"/>
<path d="M263.3 388.9L275.4 387.7L287.5 387.1L294 386.5L294 393L263.3 393Z" fill="#8000a8"/>
</g>
<g clip-path="url(#t14)">
<rect x="294" y="314" width="79" height="79" fill="#8000a8"/>
<path d="M294 317.6L306.1 321.2L318.2 323.7L330.2 325.5L342.3 326.1L354.4 325.5L373 324.9L373 340.6L294 340.6Z" fill="#0064ff"/>
<path d="M294 322.5L303.7 324.9L312.1 324.3L318.2 325.5L330.2 326.1L342.3 326.1L354.4 326.1L373 326.1L373 339.4L294 339.4Z" fill="#00ffff"/>
<path d="M294 329.7L306.1 329.1L318.2 327.9L330.2 327.3L342.3 327L354.4 327.3L366.5 327.3L373 327L373 337L354.4 337.6L342.3 338.2L330.2 339.4L318.2 340L306.1 340L294 339.4Z" fill="#80ff00"/>
<path d="M294 331.5L306.1 330.9L318.2 329.7L330.2 328.5L342.3 328.3L354.4 328.3L366.5 328.3L373 328.3L373 335.7L354.4 336.3L342.3 337L330.2 337.9L318.2 338.8L306.1 338.8L294 338.2Z" fill="#ffff00"/>
<path d="M294 333.9L306.1 333.3L318.2 331.9L330.2 330.3L342.3 329.7L354.4 329.5L366.5 329.1L373 329.1L373 334.5L354.4 335.1L342.3 335.7L330.2 337L318.2 337.9L306.1 337.9L294 337.6Z" fill="#f0202a"/>
<path d="M300 336.3L306.1 335.7L315.7 336L318.2 337.6L306.1 337.9L300 337.6Z" fill="#ffaaaa"/>
<path d="M323 334.5L330.2 332.7L342.3 331.5L345.9 332.7L342.3 333.9L330.2 335.5Z" fill="#ffaaaa"/>
<path d="M368.9 330.3L373 329.7L373 331.5L370.1 331.5Z" fill="#ffaaaa"/>
<path d="M294 340L318.2 340.6L342.3 339.4L373 338.2L373 347.8L294 347.8Z" fill="#0000b4"/>
<path d="M294 344.2L373 344.2L373 350.2L294 350.2Z" fill="#8000a8"/>
<path d="M294 352.7L306.1 351.4L318.2 350.2L342.3 351.4L354.4 352.7L373 350.2L373 368.4L294 368.4Z" fill="#0000b4"/>
<path d="M300 355.1L312.1 353.9L324.2 354.5L336.3 355.1L348.4 355.7L354.4 357.5L342.3 359.9L330.2 361.1L318.2 360.5L306.1 359.3L300 357.5Z" fill="#8000a8"/>
<use href="#q90" fill="#0064ff" stroke="#0064ff" stroke-width="3.62"/>
<use href="#q90" fill="#00ffff"/>
<path d="M294 357.5L298.8 358.1L301.2 361.1L298.8 364.7L294 364.7Z" fill="#0064ff"/>
<use href="#q91" fill="#0064ff" stroke="#0064ff" stroke-width="2.42"/>
<use href="#q91" fill="#00ffff"/>
<use href="#q92" fill="#00f088" stroke="#00f088" stroke-width="2.42"/>
<use href="#q92" fill="#80ff00"/>
<use href="#q93" fill="#ffff00" stroke="#ffff00" stroke-width="3.62"/>
<use href="#q93" fill="#ffa000"/>
<use href="#q94" fill="#ffa000" stroke="#ffa000" stroke-width="2.42"/>
<use href="#q94" fill="#ff5a00" stroke="#ff5a00" stroke-width="1.21"/>
<use href="#q94" fill="#f0202a"/>
<path d="M294 374.4L306.1 374.6L318.2 375.6L332.7 378.6L333.9 382.9L324.2 383.5L312.1 382.9L300 382.2L294 382.2Z" fill="#f0202a"/>
<path d="M294 375.6L306.1 375.8L318.2 376.8L330.2 379.2L324.2 381.6L312.1 381L300 380.4L294 380.4Z" fill="#ffaaaa"/>
<path d="M324.2 381.6L336.3 381L348.4 382.9L344.7 384.7L332.7 384.7Z" fill="#ffa000"/>
<path d="M294 383.5L306.1 384.1L318.2 384.7L330.2 385.9L342.3 386.5L354.4 387.1L373 387.1L373 393L294 393Z" fill="#0064ff"/>
<use href="#q95" fill="#3c00a0" stroke="#3c00a0" stroke-width="2.42"/>
<use href="#q95" fill="#8000a8"/>
<use href="#q96" fill="#3c00a0" stroke="#3c00a0" stroke-width="2.42"/>
<use href="#q96" fill="#8000a8"/>
<use href="#q97" fill="#00f088" stroke="#00f088" stroke-width="2.42"/>
<use href="#q97" fill="#80ff00" stroke="#80ff00" stroke-width="1.21"/>
<use href="#q97" fill="#ffff00"/>
<path d="M354.4 385.5L361.6 384.4L368.9 385L373 385.5L373 388.7L366.5 388.7L360.4 387.7Z" fill="#00ffff"/>
</g>
<g clip-path="url(#t15)">
<rect x="373" y="314" width="79" height="79" fill="#00ffff"/>
<path d="M373 314L452 314L452 317L433.4 317.4L409.2 317L397.2 316.4L373 315.8Z" fill="#ffff00"/>
<path d="M403.2 314L452 314L452 316.2L421.3 316.4L403.2 316.4Z" fill="#ffa000"/>
<path d="M411.7 314L440.6 314L438.2 315.4L412.9 315.4Z" fill="#ff5a00"/>
<path d="M373 314L403.2 314L397.2 315.8L373 316.2Z" fill="#80ff00"/>
<path d="M377.8 319.4L385.1 318.8L391.1 320.6L393.5 324.3L387.5 326.1L377.8 326.1Z" fill="#0064ff"/>
<path d="M373 318.2L377.8 318.8L379 322.5L377.8 325.5L373 326.1Z" fill="#0000b4"/>
<path d="M411.7 324.3L421.3 323.1L433.4 323.7L452 323.4L452 327.9L433.4 328.3L421.3 327.3L412.9 326.1Z" fill="#0064ff"/>
<use href="#q98" fill="#00f088" stroke="#00f088" stroke-width="2.90"/>
<use href="#q98" fill="#80ff00" stroke="#80ff00" stroke-width="1.45"/>
<use href="#q98" fill="#ffff00"/>
<use href="#q99" fill="#ffa000" stroke="#ffa000" stroke-width="1.93"/>
<use href="#q99" fill="#ff5a00" stroke="#ff5a00" stroke-width="0.97"/>
<use href="#q99" fill="#f0202a"/>
<path d="M373 329.9L377.8 330.3L380.2 331.2L376.6 332.1L373 332.1Z" fill="#ffaaaa"/>
<path d="M373 337L385.1 335.7L397.2 334.5L409.2 332.1L421.3 330.3L433.4 330.3L445.5 330.9L452 330.9L452 341.2L433.4 341.8L421.3 343L409.2 343.6L397.2 344.2L385.1 344.2L373 343.6Z" fill="#0000b4"/>
<path d="M376.6 340L385.1 338.2L397.2 337.2L406.8 335.1L412.9 332.1L421.3 331.5L433.4 331.9L445.5 332.1L452 332.4L452 340L433.4 340.3L421.3 341.5L409.2 342.4L397.2 342.7L385.1 343L376.6 342.4Z" fill="#8000a8"/>
<use href="#q100" fill="#00f088" stroke="#00f088" stroke-width="2.42"/>
<use href="#q100" fill="#80ff00" stroke="#80ff00" stroke-width="1.21"/>
<use href="#q100" fill="#ffff00"/>
<use href="#q101" fill="#ffa000" stroke="#ffa000" stroke-width="2.90"/>
<use href="#q101" fill="#ff5a00" stroke="#ff5a00" stroke-width="1.93"/>
<use href="#q101" fill="#f0202a" stroke="#f0202a" stroke-width="0.97"/>
<use href="#q101" fill="#ffaaaa"/>
<path d="M385.1 349.6L391.1 348.4L397.2 349.6L393.5 350.8Z" fill="#f0202a"/>
<path d="M373 354.5L385.1 353.9L397.2 354.5L409.2 355.1L421.3 355.7L433.4 355.7L452 355.1L452 357.5L433.4 358.7L409.2 358.1L385.1 357.5L373 356.9Z" fill="#ffff00"/>
<path d="M373 359.9L385.1 359.3L391.1 361.1L397.2 364.7L409.2 367.1L421.3 369.6L433.4 372L445.5 374.4L452 375L452 379.2L373 379.2Z" fill="#0064ff"/>
<use href="#q102" fill="#00f088" stroke="#00f088" stroke-width="1.93"/>
<use href="#q102" fill="#80ff00"/>
<path d="M373 367.1L385.1 365.9L391.1 367.1L397.2 368.4L409.2 369.6L421.3 372L433.4 374.4L445.5 376.8L452 377.4L452 386.5L373 381.6Z" fill="#0000b4"/>
<path d="M373 369.6L385.1 369L397.2 370.2L409.2 371.7L421.3 373.8L433.4 376.2L445.5 378.6L452 379.8L452 386.5L445.5 386.5L433.4 384.7L421.3 382.9L409.2 381.6L397.2 381L385.1 379.8L373 379.2Z" fill="#8000a8"/>
<use href="#q103" fill="#3c00a0" stroke="#3c00a0" stroke-width="4.83"/>
<use href="#q103" fill="#0000b4" stroke="#0000b4" stroke-width="4.35"/>
<use href="#q103" fill="#0064ff" stroke="#0064ff" stroke-width="3.87"/>
<use href="#q103" fill="#00ffff" stroke="#00ffff" stroke-width="3.38"/>
<use href="#q103" fill="#00f088" stroke="#00f088" stroke-width="2.90"/>
<use href="#q103" fill="#80ff00" stroke="#80ff00" stroke-width="2.42"/>
<use href="#q103" fill="#ffff00" stroke="#ffff00" stroke-width="1.93"/>
<use href="#q103" fill="#ffa000" stroke="#ffa000" stroke-width="1.45"/>
<use href="#q103" fill="#ff5a00" stroke="#ff5a00" stroke-width="0.97"/>
<use href="#q103" fill="#f0202a" stroke="#f0202a" stroke-width="0.48"/>
<use href="#q103" fill="#ffaaaa"/>
<use href="#q104" fill="#f0202a" stroke="#f0202a" stroke-width="1.93"/>
<use href="#q104" fill="#ff5a00" stroke="#ff5a00" stroke-width="1.29"/>
<use href="#q104" fill="#ffa000" stroke="#ffa000" stroke-width="0.64"/>
<use href="#q104" fill="#ffff00"/>
<use href="#q105" fill="#f0202a" stroke="#f0202a" stroke-width="2.42"/>
<use href="#q105" fill="#ff5a00" stroke="#ff5a00" stroke-width="2.01"/>
<use href="#q105" fill="#ffa000" stroke="#ffa000" stroke-width="1.61"/>
<use href="#q105" fill="#ffff00" stroke="#ffff00" stroke-width="1.21"/>
<use href="#q105" fill="#80ff00" stroke="#80ff00" stroke-width="0.81"/>
<use href="#q105" fill="#00f088" stroke="#00f088" stroke-width="0.40"/>
<use href="#q105" fill="#00ffff"/>
</g>
<g clip-path="url(#t16)">
<rect x="452" y="314" width="79" height="79" fill="#0064ff"/>
<path d="M452 314L531 314L531 316.4L512.4 317.6L488.2 317.6L476.2 317L452 318.2Z" fill="#00ffff"/>
<use href="#q106" fill="#00f088" stroke="#00f088" stroke-width="1.93"/>
<use href="#q106" fill="#80ff00" stroke="#80ff00" stroke-width="0.97"/>
<use href="#q106" fill="#ffff00"/>
<path d="M510 314L531 314L531 315.8L512.4 315.8Z" fill="#80ff00"/>
<path d="M462.9 326.1L470.1 322.5L482.2 320L500.3 318.8L512.4 319.4L531 318.8L531 330.9L512.4 330.9L500.3 329.7L488.2 329.1L476.2 329.1L466.5 328.5Z" fill="#0000b4"/>
<path d="M476.2 324.9L488.2 321.2L500.3 320.6L512.4 321.2L524.5 321.2L531 321.2L531 328.5L512.4 329.1L500.3 327.9L488.2 327.3L478.6 326.7Z" fill="#3c00a0"/>
<use href="#q107" fill="#0000b4" stroke="#0000b4" stroke-width="2.42"/>
<use href="#q107" fill="#3c00a0" stroke="#3c00a0" stroke-width="1.21"/>
<use href="#q107" fill="#8000a8"/>
<path d="M452 341.2L464.1 340L476.2 338.2L488.2 336.3L500.3 334.5L512.4 333.3L524.5 332.1L531 332.1L531 349L512.4 348.4L500.3 348.4L488.2 349L476.2 351.4L464.1 352.7L452 353.3Z" fill="#00ffff"/>
<path d="M452 342L464.1 341.2L476.2 339.4L488.2 337.6L500.3 335.7L512.4 334.3L524.5 333.3L531 333.1L531 347.2L512.4 346.9L500.3 347.2L488.2 348.1L476.2 350.2L464.1 351.7L452 352.4Z" fill="#ffff00"/>
<path d="M452 342.7L464.1 342L476.2 340.3L488.2 338.8L500.3 337L512.4 335.5L524.5 334.3L531 333.9L531 346L512.4 346L500.3 346.4L488.2 347.2L476.2 349L464.1 350.5L452 351.4Z" fill="#f0202a"/>
<path d="M452 343.6L464.1 343L476.2 341.2L488.2 339.6L500.3 337.9L512.4 336.3L524.5 335.1L531 334.8L531 345.2L512.4 345.2L500.3 345.6L488.2 346.4L476.2 347.8L464.1 349.6L452 350.2Z" fill="#ffaaaa"/>
<path d="M487 349.6L500.3 349L512.4 348.4L524.5 347.8L531 347.8L531 352.7L524.5 352.7L512.4 352.4L500.3 351.4Z" fill="#0064ff"/>
<path d="M452 352.9L464.1 352.3L476.2 351.1L488.2 350.5L500.3 351.1L512.4 352.3L531 352.9L531 358.7L452 359.3Z" fill="#80ff00"/>
<path d="M452 353.9L464.1 353.3L476.2 352.4L488.2 352.1L500.3 352.7L506.4 353.9L500.3 355.7L488.2 356L476.2 356.3L464.1 356.3L452 356.3Z" fill="#ffff00"/>
<path d="M452 359.3L531 358.7L531 364.7L452 364.7Z" fill="#00ffff"/>
<path d="M467.7 361.1L476.2 359.3L488.2 359.3L500.3 359.7L506.4 360.5L502.7 362.9L488.2 363.5L476.2 363.3L468.9 362.3Z" fill="#0000b4"/>
<path d="M482.2 361.7L488.2 360.9L494.3 360.9L497.9 361.7L493.1 362.3L485.8 362.6Z" fill="#8000a8"/>
<use href="#q108" fill="#ffff00" stroke="#ffff00" stroke-width="2.90"/>
<use href="#q108" fill="#ffa000"/>
<path d="M452 363.5L531 363.5L531 381.6L452 381.6Z" fill="#00ffff"/>
<path d="M452 364.7L464.1 364.1L476.2 364.1L488.2 364.7L500.3 364.7L512.4 365.9L524.5 367.1L531 368.4L531 378L512.4 378L500.3 378L488.2 377.4L476.2 376.8L464.1 375.6L452 375Z" fill="#80ff00"/>
<path d="M464.1 367.1L476.2 365.3L488.2 365.3L500.3 365.9L508.8 368.4L506.4 372L500.3 373.8L488.2 374.4L476.2 373.2L466.5 370.8Z" fill="#ffff00"/>
<use href="#q109" fill="#ffa000" stroke="#ffa000" stroke-width="2.90"/>
<use href="#q109" fill="#ff5a00" stroke="#ff5a00" stroke-width="1.45"/>
<use href="#q109" fill="#f0202a"/>
<path d="M452 367.1L458 366.9L461.7 369.6L459.2 373.2L452 373.8Z" fill="#00ffff"/>
<use href="#q110" fill="#ffff00" stroke="#ffff00" stroke-width="2.42"/>
<use href="#q110" fill="#ffa000" stroke="#ffa000" stroke-width="1.61"/>
<use href="#q110" fill="#ff5a00" stroke="#ff5a00" stroke-width="0.81"/>
<use href="#q110" fill="#f0202a"/>
<path d="M452 380.2L476.2 380.7L500.3 381.6L531 382.2L531 393L452 393Z" fill="#0064ff"/>
<path d="M488.2 386.5L500.3 385.3L512.4 385.3L531 385.3L531 387.9L512.4 387.7L500.3 387.1Z" fill="#0000b4"/>
<use href="#q111" fill="#3c00a0" stroke="#3c00a0" stroke-width="2.90"/>
<use href="#q111" fill="#8000a8"/>
<use href="#q112" fill="#3c00a0" stroke="#3c00a0" stroke-width="2.42"/>
<use href="#q112" fill="#0000b4" stroke="#0000b4" stroke-width="2.17"/>
<use href="#q112" fill="#0064ff" stroke="#0064ff" stroke-width="1.93"/>
<use href="#q112" fill="#00ffff" stroke="#00ffff" stroke-width="1.69"/>
<use href="#q112" fill="#00f088" stroke="#00f088" stroke-width="1.45"/>
<use href="#q112" fill="#80ff00" stroke="#80ff00" stroke-width="1.21"/>
<use href="#q112" fill="#ffff00" stroke="#ffff00" stroke-width="0.97"/>
<use href="#q112" fill="#ffa000" stroke="#ffa000" stroke-width="0.72"/>
<use href="#q112" fill="#ff5a00" stroke="#ff5a00" stroke-width="0.48"/>
<use href="#q112" fill="#f0202a" stroke="#f0202a" stroke-width="0.24"/>
<use href="#q112" fill="#ffaaaa"/>
<path d="M519.6 382.2L526.9 381.6L531 381.6L531 384.7L524.5 384.7Z" fill="#00ffff"/>
</g>
<g clip-path="url(#t17)">
<rect x="531" y="314" width="79" height="79" fill="#00ffff"/>
<path d="M531 314L610 314L610 315.8L531 316.2Z" fill="#80ff00"/>
<path d="M531 317L610 316.7L610 330.9L531 330.9Z" fill="#0064ff"/>
<path d="M531 319.4L555.2 318.8L579.3 318.2L610 318.2L610 329.7L579.3 329.1L555.2 330.3L531 330.3Z" fill="#0000b4"/>
<path d="M543.1 324.9L555.2 322.5L573.3 320.6L591.4 320L610 320L610 328.5L591.4 328.7L579.3 328.5L567.2 327.9L555.2 327.3L545.5 326.7Z" fill="#8000a8"/>
<use href="#q113" fill="#3c00a0" stroke="#3c00a0" stroke-width="6.04"/>
<use href="#q113" fill="#0000b4" stroke="#0000b4" stroke-width="5.44"/>
<use href="#q113" fill="#0064ff" stroke="#0064ff" stroke-width="4.83"/>
<use href="#q113" fill="#00ffff" stroke="#00ffff" stroke-width="4.23"/>
<use href="#q113" fill="#00f088" stroke="#00f088" stroke-width="3.62"/>
<use href="#q113" fill="#80ff00" stroke="#80ff00" stroke-width="3.02"/>
<use href="#q113" fill="#ffff00" stroke="#ffff00" stroke-width="2.42"/>
<use href="#q113" fill="#ffa000" stroke="#ffa000" stroke-width="1.81"/>
<use href="#q113" fill="#ff5a00" stroke="#ff5a00" stroke-width="1.21"/>
<use href="#q113" fill="#f0202a" stroke="#f0202a" stroke-width="0.60"/>
<use href="#q113" fill="#ffaaaa"/>
<use href="#q114" fill="#0064ff" stroke="#0064ff" stroke-width="1.93"/>
<use href="#q114" fill="#0000b4"/>
<path d="M537 350.2L549.1 349L567.2 348.4L579.3 349.6L591.4 350.2L610 349L610 353.3L591.4 353.9L579.3 353.9L567.2 352.7L549.1 351.4Z" fill="#8000a8"/>
<use href="#q115" fill="#00f088" stroke="#00f088" stroke-width="3.62"/>
<use href="#q115" fill="#80ff00" stroke="#80ff00" stroke-width="1.81"/>
<use href="#q115" fill="#ffff00"/>
<use href="#q116" fill="#ffa000" stroke="#ffa000" stroke-width="3.62"/>
<use href="#q116" fill="#ff5a00" stroke="#ff5a00" stroke-width="1.81"/>
<use href="#q116" fill="#f0202a"/>
<use href="#q117" fill="#ffa000" stroke="#ffa000" stroke-width="3.62"/>
<use href="#q117" fill="#ff5a00" stroke="#ff5a00" stroke-width="2.42"/>
<use href="#q117" fill="#f0202a" stroke="#f0202a" stroke-width="1.21"/>
<use href="#q117" fill="#ffaaaa"/>
<use href="#q118" fill="#00f088" stroke="#00f088" stroke-width="2.42"/>
<use href="#q118" fill="#80ff00"/>
<path d="M543.1 368.4L549.1 367.8L555.2 368.1L552.7 369L544.3 369Z" fill="#0064ff"/>
<use href="#q119" fill="#ffa000" stroke="#ffa000" stroke-width="4.83"/>
<use href="#q119" fill="#ff5a00" stroke="#ff5a00" stroke-width="3.22"/>
<use href="#q119" fill="#f0202a" stroke="#f0202a" stroke-width="1.61"/>
<use href="#q119" fill="#ffaaaa"/>
<path d="M591.4 376.8L598.6 375L610 374.4L610 381.6L598.6 381.6Z" fill="#0064ff"/>
<path d="M531 381.6L555.2 382.2L579.3 381.6L610 381.6L610 393L531 393Z" fill="#0064ff"/>
<path d="M531 384.7L543.1 384.1L555.2 384.7L567.2 384.1L579.3 384.7L591.4 384.1L610 383.5L610 393L531 393Z" fill="#0000b4"/>
<path d="M543.1 387.7L555.2 385.9L567.2 385.3L579.3 386.5L591.4 386.5L603.5 385.9L610 386.5L610 393L543.1 393Z" fill="#8000a8"/>
<path d="M531 386.5L534.6 385.9L535.8 388.9L533.4 391.3L531 391.3Z" fill="#00ffff"/>
<use href="#q120" fill="#00f088" stroke="#00f088" stroke-width="1.93"/>
<use href="#q120" fill="#80ff00" stroke="#80ff00" stroke-width="0.97"/>
<use href="#q120" fill="#ffff00"/>
</g>
<g clip-path="url(#t18)">
<rect x="610" y="314" width="79" height="79" fill="#ffaaaa"/>
<path d="M610 363.5L617.2 361.1L634.2 358.7L646.2 357.5L658.3 356.5L670.4 355.7L689 354.5L689 393L610 393Z" fill="#f0202a"/>
<path d="M610 365.3L617.2 362.9L634.2 360.5L646.2 358.9L658.3 357.7L670.4 356.9L689 355.7L689 393L610 393Z" fill="#ffff00"/>
<path d="M610 367.1L619.7 364.7L634.2 362.3L646.2 360.5L658.3 358.9L670.4 358.1L689 356.9L689 393L610 393Z" fill="#80ff00"/>
<path d="M622.1 367.1L634.2 364.7L646.2 362.9L658.3 360.5L670.4 359.3L689 358.1L689 393L622.1 393Z" fill="#00f088"/>
<path d="M610 373.2L622.1 370.8L634.2 367.1L646.2 364.7L658.3 361.7L670.4 360.5L689 359.3L689 393L610 393Z" fill="#00ffff"/>
<path d="M610 365.9L622.1 364.7L634.2 365.9L643.8 367.8L634.2 370.8L622.1 372L610 372Z" fill="#80ff00"/>
<path d="M646.2 374.4L658.3 368.4L670.4 364.7L674 361.1L682.5 359.9L689 359.9L689 376.8L670.4 376.8Z" fill="#0064ff"/>
<path d="M658.3 372L670.4 368.4L682.5 367.1L689 367.1L689 375.6L670.4 375.6Z" fill="#0000b4"/>
<path d="M655.9 376.8L664.4 373.2L676.4 370.8L689 370.8L689 377.4L676.4 378.6Z" fill="#8000a8"/>
<path d="M610 374.4L622.1 373.8L634.2 373.2L646.2 374.4L658.3 376.8L658.3 386.5L610 386.5Z" fill="#0064ff"/>
<use href="#q121" fill="#3c00a0" stroke="#3c00a0" stroke-width="2.42"/>
<use href="#q121" fill="#8000a8"/>
<path d="M628.1 378L634.2 377.4L637.8 378.6L634.2 379.2Z" fill="#00ffff"/>
<use href="#q122" fill="#3c00a0" stroke="#3c00a0" stroke-width="4.83"/>
<use href="#q122" fill="#0000b4" stroke="#0000b4" stroke-width="4.35"/>
<use href="#q122" fill="#0064ff" stroke="#0064ff" stroke-width="3.87"/>
<use href="#q122" fill="#00ffff" stroke="#00ffff" stroke-width="3.38"/>
<use href="#q122" fill="#00f088" stroke="#00f088" stroke-width="2.90"/>
<use href="#q122" fill="#80ff00" stroke="#80ff00" stroke-width="2.42"/>
<use href="#q122" fill="#ffff00" stroke="#ffff00" stroke-width="1.93"/>
<use href="#q122" fill="#ffa000" stroke="#ffa000" stroke-width="1.45"/>
<use href="#q122" fill="#ff5a00" stroke="#ff5a00" stroke-width="0.97"/>
<use href="#q122" fill="#f0202a" stroke="#f0202a" stroke-width="0.48"/>
<use href="#q122" fill="#ffaaaa"/>
<use href="#q123" fill="#f0202a" stroke="#f0202a" stroke-width="3.87"/>
<use href="#q123" fill="#ff5a00" stroke="#ff5a00" stroke-width="3.22"/>
<use href="#q123" fill="#ffa000" stroke="#ffa000" stroke-width="2.58"/>
<use href="#q123" fill="#ffff00" stroke="#ffff00" stroke-width="1.93"/>
<use href="#q123" fill="#80ff00" stroke="#80ff00" stroke-width="1.29"/>
<use href="#q123" fill="#00f088" stroke="#00f088" stroke-width="0.64"/>
<use href="#q123" fill="#00ffff"/>
<use href="#q124" fill="#80ff00" stroke="#80ff00" stroke-width="1.93"/>
<use href="#q124" fill="#00f088" stroke="#00f088" stroke-width="0.97"/>
<use href="#q124" fill="#00ffff"/>
<path d="M646.2 393L649.9 391.9L658.3 391.9L660.7 393Z" fill="#0064ff"/>
<use href="#q125" fill="#f0202a" stroke="#f0202a" stroke-width="3.62"/>
<use href="#q125" fill="#ff5a00" stroke="#ff5a00" stroke-width="3.02"/>
<use href="#q125" fill="#ffa000" stroke="#ffa000" stroke-width="2.42"/>
<use href="#q125" fill="#ffff00" stroke="#ffff00" stroke-width="1.81"/>
<use href="#q125" fill="#80ff00" stroke="#80ff00" stroke-width="1.21"/>
<use href="#q125" fill="#00f088" stroke="#00f088" stroke-width="0.60"/>
<use href="#q125" fill="#00ffff"/>
<path d="M610 319.4L634.2 318.8L646.2 319.4L658.3 320.6L670.4 322.5L682.5 323.7L689 324.3L689 341.2L658.3 341.2L646.2 339.4L634.2 334.5L622.1 332.1L610 331.5Z" fill="#0000b4"/>
<path d="M610 320.6L622.1 320.6L634.2 321.2L640.2 323.7L646.2 326.1L658.3 326.7L670.4 327.3L682.5 328.5L689 328.5L689 340.6L658.3 340.3L648.7 339.4L640.2 334.5L628.1 331.5L610 330.9Z" fill="#8000a8"/>
<path d="M634.2 323.7L646.2 322.5L658.3 323.1L670.4 324.9L682.5 325.5L689 325.5L689 329.7L670.4 330.3L658.3 329.1L646.2 328.5L640.2 326.1Z" fill="#3c00a0"/>
<use href="#q126" fill="#3c00a0" stroke="#3c00a0" stroke-width="4.83"/>
<use href="#q126" fill="#0000b4" stroke="#0000b4" stroke-width="4.35"/>
<use href="#q126" fill="#0064ff" stroke="#0064ff" stroke-width="3.87"/>
<use href="#q126" fill="#00ffff" stroke="#00ffff" stroke-width="3.38"/>
<use href="#q126" fill="#00f088" stroke="#00f088" stroke-width="2.90"/>
<use href="#q126" fill="#80ff00" stroke="#80ff00" stroke-width="2.42"/>
<use href="#q126" fill="#ffff00" stroke="#ffff00" stroke-width="1.93"/>
<use href="#q126" fill="#ffa000" stroke="#ffa000" stroke-width="1.45"/>
<use href="#q126" fill="#ff5a00" stroke="#ff5a00" stroke-width="0.97"/>
<use href="#q126" fill="#f0202a" stroke="#f0202a" stroke-width="0.48"/>
<use href="#q126" fill="#ffaaaa"/>
<use href="#q127" fill="#00f088" stroke="#00f088" stroke-width="2.42"/>
<use href="#q127" fill="#80ff00" stroke="#80ff00" stroke-width="1.21"/>
<use href="#q127" fill="#ffff00"/>
<use href="#q128" fill="#f0202a" stroke="#f0202a" stroke-width="4.83"/>
<use href="#q128" fill="#ff5a00" stroke="#ff5a00" stroke-width="4.35"/>
<use href="#q128" fill="#ffa000" stroke="#ffa000" stroke-width="3.87"/>
<use href="#q128" fill="#ffff00" stroke="#ffff00" stroke-width="3.38"/>
<use href="#q128" fill="#80ff00" stroke="#80ff00" stroke-width="2.90"/>
<use href="#q128" fill="#00f088" stroke="#00f088" stroke-width="2.42"/>
<use href="#q128" fill="#00ffff" stroke="#00ffff" stroke-width="1.93"/>
<use href="#q128" fill="#0064ff" stroke="#0064ff" stroke-width="1.45"/>
<use href="#q128" fill="#0000b4" stroke="#0000b4" stroke-width="0.97"/>
<use href="#q128" fill="#3c00a0" stroke="#3c00a0" stroke-width="0.48"/>
<use href="#q128" fill="#8000a8"/>
</g>
<g clip-path="url(#t19)">
<rect x="689" y="314" width="79" height="79" fill="#ffaaaa"/>
<use href="#q129" fill="#f0202a" stroke="#f0202a" stroke-width="4.83"/>
<use href="#q129" fill="#ff5a00" stroke="#ff5a00" stroke-width="4.03"/>
<use href="#q129" fill="#ffa000" stroke="#ffa000" stroke-width="3.22"/>
<use href="#q129" fill="#ffff00" stroke="#ffff00" stroke-width="2.42"/>
<use href="#q129" fill="#80ff00" stroke="#80ff00" stroke-width="1.61"/>
<use href="#q129" fill="#00f088" stroke="#00f088" stroke-width="0.81"/>
<use href="#q129" fill="#00ffff"/>
<path d="M689 323.7L701.1 323.4L713.2 324.3L725.2 324.9L737.3 326.1L749.4 328.5L761.5 330.3L768 333.3L768 346L689 342.4Z" fill="#0064ff"/>
<path d="M689 324.3L701.1 324.3L713.2 325.5L719.2 328.5L725.2 330.9L737.3 333.3L749.4 334.5L768 335.7L768 346L689 342.4Z" fill="#0000b4"/>
<path d="M734.9 328.5L743.4 326.7L755.4 327.9L768 328.5L768 333.3L755.4 333.3L743.4 332.1Z" fill="#00ffff"/>
<path d="M689 330.9L701.1 331.5L713.2 333.3L725.2 335.1L737.3 336.3L749.4 337L768 337.6L768 346L749.4 345.4L725.2 344.2L701.1 343L689 342.4Z" fill="#8000a8"/>
<use href="#q130" fill="#f0202a" stroke="#f0202a" stroke-width="2.90"/>
<use href="#q130" fill="#ff5a00" stroke="#ff5a00" stroke-width="1.93"/>
<use href="#q130" fill="#ffa000" stroke="#ffa000" stroke-width="0.97"/>
<use href="#q130" fill="#ffff00"/>
<path d="M689 358.1L713.2 357.5L737.3 356.9L768 357.5L768 376.8L689 376.8Z" fill="#00ffff"/>
<path d="M689 359.9L713.2 358.9L737.3 358.5L768 358.7L768 376.8L689 376.8Z" fill="#0064ff"/>
<path d="M697.5 365.3L707.1 363.5L719.2 363.3L731.3 363.8L734.9 365.3L728.9 367.1L713.2 367.4L701.1 367.1Z" fill="#00ffff"/>
<path d="M719.2 362.3L731.3 360.5L743.4 359.9L755.4 360.5L768 359.9L768 370.8L749.4 370.8L737.3 369.6L725.2 367.8L731.3 364.7Z" fill="#0000b4"/>
<path d="M737.3 364.7L749.4 362.9L761.5 362.3L768 362.3L768 369.6L749.4 369.6L739.7 367.8Z" fill="#8000a8"/>
<use href="#q131" fill="#3c00a0" stroke="#3c00a0" stroke-width="2.90"/>
<use href="#q131" fill="#8000a8"/>
<use href="#q132" fill="#3c00a0" stroke="#3c00a0" stroke-width="2.90"/>
<use href="#q132" fill="#0000b4" stroke="#0000b4" stroke-width="2.61"/>
<use href="#q132" fill="#0064ff" stroke="#0064ff" stroke-width="2.32"/>
<use href="#q132" fill="#00ffff" stroke="#00ffff" stroke-width="2.03"/>
<use href="#q132" fill="#00f088" stroke="#00f088" stroke-width="1.74"/>
<use href="#q132" fill="#80ff00" stroke="#80ff00" stroke-width="1.45"/>
<use href="#q132" fill="#ffff00" stroke="#ffff00" stroke-width="1.16"/>
<use href="#q132" fill="#ffa000" stroke="#ffa000" stroke-width="0.87"/>
<use href="#q132" fill="#ff5a00" stroke="#ff5a00" stroke-width="0.58"/>
<use href="#q132" fill="#f0202a" stroke="#f0202a" stroke-width="0.29"/>
<use href="#q132" fill="#ffaaaa"/>
<use href="#q133" fill="#3c00a0" stroke="#3c00a0" stroke-width="3.62"/>
<use href="#q133" fill="#0000b4" stroke="#0000b4" stroke-width="3.26"/>
<use href="#q133" fill="#0064ff" stroke="#0064ff" stroke-width="2.90"/>
<use href="#q133" fill="#00ffff" stroke="#00ffff" stroke-width="2.54"/>
<use href="#q133" fill="#00f088" stroke="#00f088" stroke-width="2.17"/>
<use href="#q133" fill="#80ff00" stroke="#80ff00" stroke-width="1.81"/>
<use href="#q133" fill="#ffff00" stroke="#ffff00" stroke-width="1.45"/>
<use href="#q133" fill="#ffa000" stroke="#ffa000" stroke-width="1.09"/>
<use href="#q133" fill="#ff5a00" stroke="#ff5a00" stroke-width="0.72"/>
<use href="#q133" fill="#f0202a" stroke="#f0202a" stroke-width="0.36"/>
<use href="#q133" fill="#ffaaaa"/>
<use href="#q134" fill="#f0202a" stroke="#f0202a" stroke-width="4.83"/>
<use href="#q134" fill="#ff5a00" stroke="#ff5a00" stroke-width="4.03"/>
<use href="#q134" fill="#ffa000" stroke="#ffa000" stroke-width="3.22"/>
<use href="#q134" fill="#ffff00" stroke="#ffff00" stroke-width="2.42"/>
<use href="#q134" fill="#80ff00" stroke="#80ff00" stroke-width="1.61"/>
<use href="#q134" fill="#00f088" stroke="#00f088" stroke-width="0.81"/>
<use href="#q134" fill="#00ffff"/>
<path d="M731.3 382.9L743.4 381L755.4 381.6L763.9 382.2L768 381.6L768 387.7L759.1 387.7L749.4 386.5Z" fill="#0064ff"/>
<path d="M755.4 384.7L763.9 384.1L768 384.1L768 387.7L761.5 387.7Z" fill="#0000b4"/>
<use href="#q135" fill="#f0202a" stroke="#f0202a" stroke-width="2.42"/>
<use href="#q135" fill="#ff5a00" stroke="#ff5a00" stroke-width="1.61"/>
<use href="#q135" fill="#ffa000" stroke="#ffa000" stroke-width="0.81"/>
<use href="#q135" fill="#ffff00"/>
<path d="M696.2 393L701.1 391.3L710.7 391.3L715.6 393Z" fill="#80ff00"/>
<path d="M747 387.7L751.8 386.5L756.6 388.9L754.2 391.3L749.4 390.7Z" fill="#f0202a"/>
<path d="M759.1 391.3L763.9 388.9L768 388.3L768 393L759.1 393Z" fill="#00ffff"/>
</g>
<g clip-path="url(#t20)">
<rect x="136" y="393" width="158" height="79" fill="#00f088"/>
<path d="M136 403.5L153.5 402.6L171 403.5L179.7 408.7L188.4 410.5L197.2 412.2L188.4 417.5L171 419.2L153.5 421L136 422.7Z" fill="#80ff00"/>
<path d="M153.5 407L158.7 406.1L162.2 409.6L158.7 413.1L153.5 412.2Z" fill="#00ffff"/>
<path d="M183.2 410.5L188.4 408.7L193.7 410.5L190.2 414L184.9 414Z" fill="#00ffff"/>
<use href="#q136" fill="#00f088" stroke="#00f088" stroke-width="5.24"/>
<use href="#q136" fill="#80ff00" stroke="#80ff00" stroke-width="4.37"/>
<use href="#q136" fill="#ffff00" stroke="#ffff00" stroke-width="3.50"/>
<use href="#q136" fill="#ffa000" stroke="#ffa000" stroke-width="2.62"/>
<use href="#q136" fill="#ff5a00" stroke="#ff5a00" stroke-width="1.75"/>
<use href="#q136" fill="#f0202a" stroke="#f0202a" stroke-width="0.87"/>
<use href="#q136" fill="#ffaaaa"/>
<use href="#q137" fill="#3c00a0" stroke="#3c00a0" stroke-width="5.24"/>
<use href="#q137" fill="#8000a8"/>
<use href="#q138" fill="#0000b4" stroke="#0000b4" stroke-width="3.50"/>
<use href="#q138" fill="#3c00a0" stroke="#3c00a0" stroke-width="1.75"/>
<use href="#q138" fill="#8000a8"/>
<use href="#q139" fill="#0064ff" stroke="#0064ff" stroke-width="1.75"/>
<use href="#q139" fill="#0000b4"/>
<path d="M136 416.6L139.5 415.7L143 419.2L139.5 421.8L136 421.8Z" fill="#0064ff"/>
<path d="M195.4 403.5L202.4 402.6L205.9 405.2L202.4 407.9L197.2 407Z" fill="#0000b4"/>
<path d="M197.2 424.5L214.7 415.7L232.1 410.5L249.6 409.6L267.1 408.4L294 407.9L294 472L258.3 472L254.8 454.2L249.6 436.7L232.1 429.7L214.7 429.7Z" fill="#80ff00"/>
<path d="M205.9 424.5L223.4 417.5L240.9 413.1L258.3 411.4L275.8 410.5L294 410.1L294 472L268.8 472L261.8 445.4L254.8 431.5L240.9 424.5L223.4 424.5Z" fill="#ffff00"/>
<path d="M219.9 419.2L240.9 413.6L258.3 411.9L275.8 411L294 411L294 472L272.3 472L268.8 445.4L265.3 431.5L249.6 421L232.1 419.2Z" fill="#ffa000"/>
<path d="M253.1 412.2L267.1 409.6L284.6 409.3L294 410L294 415.4L275.8 415.4L258.3 415.4Z" fill="#ff5a00"/>
<use href="#q140" fill="#ffff00" stroke="#ffff00" stroke-width="6.99"/>
<use href="#q140" fill="#80ff00"/>
<path d="M286.3 462.9L289.8 452.4L294 450.7L294 466.4Z" fill="#00ffff"/>
<path d="M153.5 436.7L171 431.5L188.4 428L205.9 424.5L223.4 422.7L240.9 423.6L254.8 426.2L258.3 433.2L249.6 431.5L232.1 429.7L214.7 430.6L197.2 434.9L179.7 440.2L162.2 443.7L155.2 441.9Z" fill="#ffff00"/>
<use href="#q141" fill="#00f088" stroke="#00f088" stroke-width="6.99"/>
<use href="#q141" fill="#00ffff"/>
<path d="M215.5 448.9L219.9 443.7L228.6 441.6L237.4 442.8L241.7 448.9L239.1 455L230.4 457.3L219.9 455.9Z" fill="#0064ff"/>
<path d="M136 445.4L144.7 447.2L153.5 450.7L162.2 454.2L153.5 457.7L144.7 456.8L136 455.9Z" fill="#ffff00"/>
<path d="M144.7 472L150 468.2L162.2 467.3L167.5 469.9L165.7 472Z" fill="#00ffff"/>
</g>
<g clip-path="url(#t21)">
<rect x="294" y="393" width="158" height="79" fill="#80ff00"/>
<use href="#q142" fill="#0064ff" stroke="#0064ff" stroke-width="3.50"/>
<use href="#q142" fill="#0000b4" stroke="#0000b4" stroke-width="2.33"/>
<use href="#q142" fill="#3c00a0" stroke="#3c00a0" stroke-width="1.17"/>
<use href="#q142" fill="#8000a8"/>
<use href="#q143" fill="#3c00a0" stroke="#3c00a0" stroke-width="2.80"/>
<use href="#q143" fill="#0000b4" stroke="#0000b4" stroke-width="2.52"/>
<use href="#q143" fill="#0064ff" stroke="#0064ff" stroke-width="2.24"/>
<use href="#q143" fill="#00ffff" stroke="#00ffff" stroke-width="1.96"/>
<use href="#q143" fill="#00f088" stroke="#00f088" stroke-width="1.68"/>
<use href="#q143" fill="#80ff00" stroke="#80ff00" stroke-width="1.40"/>
<use href="#q143" fill="#ffff00" stroke="#ffff00" stroke-width="1.12"/>
<use href="#q143" fill="#ffa000" stroke="#ffa000" stroke-width="0.84"/>
<use href="#q143" fill="#ff5a00" stroke="#ff5a00" stroke-width="0.56"/>
<use href="#q143" fill="#f0202a" stroke="#f0202a" stroke-width="0.28"/>
<use href="#q143" fill="#ffaaaa"/>
<use href="#q144" fill="#0064ff" stroke="#0064ff" stroke-width="2.80"/>
<use href="#q144" fill="#0000b4"/>
<use href="#q145" fill="#ffff00" stroke="#ffff00" stroke-width="3.50"/>
<use href="#q145" fill="#ffa000"/>
<path d="M329 404.4L346.4 403.5L363.9 402.6L390.1 402.6L395.4 405.2L381.4 407.9L363.9 407.9L353.4 412.2L346.4 410.5L341.2 407Z" fill="#f0202a"/>
<path d="M363.9 404.4L372.7 403.1L381.4 403.5L377.9 405.6L367.4 405.6Z" fill="#ffaaaa"/>
<use href="#q146" fill="#0064ff" stroke="#0064ff" stroke-width="3.50"/>
<use href="#q146" fill="#0000b4"/>
<path d="M294 410.5L311.5 412.2L329 417.5L346.4 424.5L353.4 433.2L349.9 440.2L337.7 434.9L320.2 431.5L302.7 429.7L294 429.7Z" fill="#ffff00"/>
<path d="M294 412.2L308 412.2L320.2 415.7L337.7 422.7L348.2 431.5L346.4 436.7L337.7 430.6L320.2 423.6L302.7 420.1L294 419.2Z" fill="#ffa000"/>
<path d="M294 436.7L311.5 434.9L329 436.7L346.4 440.2L360.4 448.9L363.9 459.4L355.2 466.4L329 464.7L311.5 462.9L294 462.9Z" fill="#00f088"/>
<path d="M294 445.4L311.5 441.9L329 442.8L346.4 447.2L360.4 455.9L363.9 462.9L346.4 462.9L329 461.2L311.5 462.9L294 464.7Z" fill="#00ffff"/>
<use href="#q147" fill="#00f088" stroke="#00f088" stroke-width="3.50"/>
<use href="#q147" fill="#80ff00"/>
<path d="M372.7 415.7L381.4 414L398.9 413.1L416.3 412.2L433.8 410.5L452 409.6L452 472L419.8 472L412.8 462.9L407.6 448.9L398.9 438.4L384.9 428L376.1 422.7Z" fill="#00f088"/>
<path d="M402.4 428L412.8 417.5L425.1 414L442.6 411.4L452 411.4L452 422.7L433.8 424.5L419.8 429.7L412.8 441.9L409.4 445.4Z" fill="#00ffff"/>
<path d="M400.6 414.8L405.9 413.1L407.6 416.6L402.4 418.3Z" fill="#00ffff"/>
<path d="M416.3 443.7L421.6 433.2L433.8 428L452 425.3L452 466.4L442.6 464.7L430.3 461.2L419.8 454.2Z" fill="#ffff00"/>
<use href="#q148" fill="#00f088" stroke="#00f088" stroke-width="4.19"/>
<use href="#q148" fill="#00ffff"/>
<path d="M361.3 441.1L363.9 438.1L369.2 438.4L371.8 442.8L369.2 445.4L363.9 445.1Z" fill="#0064ff"/>
<path d="M372.7 433.2L381.4 432.3L391.9 434.9L402.4 441.9L407.6 450.7L402.4 452.4L391.9 447.2L381.4 440.2Z" fill="#ffff00"/>
<path d="M367.4 454.2L381.4 452.4L391.9 453.3L398.9 455.9L391.9 458.5L377.9 457.7Z" fill="#ffff00"/>
<path d="M381.4 472L384.9 468.5L416.3 468.5L452 468.2L452 472Z" fill="#00f088"/>
</g>
<g clip-path="url(#t22)">
<rect x="452" y="393" width="158" height="79" fill="#00ffff"/>
<use href="#q149" fill="#3c00a0" stroke="#3c00a0" stroke-width="1.75"/>
<use href="#q149" fill="#0000b4" stroke="#0000b4" stroke-width="1.57"/>
<use href="#q149" fill="#0064ff" stroke="#0064ff" stroke-width="1.40"/>
<use href="#q149" fill="#00ffff" stroke="#00ffff" stroke-width="1.22"/>
<use href="#q149" fill="#00f088" stroke="#00f088" stroke-width="1.05"/>
<use href="#q149" fill="#80ff00" stroke="#80ff00" stroke-width="0.87"/>
<use href="#q149" fill="#ffff00" stroke="#ffff00" stroke-width="0.70"/>
<use href="#q149" fill="#ffa000" stroke="#ffa000" stroke-width="0.52"/>
<use href="#q149" fill="#ff5a00" stroke="#ff5a00" stroke-width="0.35"/>
<use href="#q149" fill="#f0202a" stroke="#f0202a" stroke-width="0.17"/>
<use href="#q149" fill="#ffaaaa"/>
<path d="M487 393L583.1 393L574.3 395.6L556.9 396.5L539.4 396.5L521.9 395.6L504.4 395.6L487 394.7Z" fill="#8000a8"/>
<use href="#q150" fill="#3c00a0" stroke="#3c00a0" stroke-width="4.19"/>
<use href="#q150" fill="#0000b4" stroke="#0000b4" stroke-width="3.78"/>
<use href="#q150" fill="#0064ff" stroke="#0064ff" stroke-width="3.36"/>
<use href="#q150" fill="#00ffff" stroke="#00ffff" stroke-width="2.94"/>
<use href="#q150" fill="#00f088" stroke="#00f088" stroke-width="2.52"/>
<use href="#q150" fill="#80ff00" stroke="#80ff00" stroke-width="2.10"/>
<use href="#q150" fill="#ffff00" stroke="#ffff00" stroke-width="1.68"/>
<use href="#q150" fill="#ffa000" stroke="#ffa000" stroke-width="1.26"/>
<use href="#q150" fill="#ff5a00" stroke="#ff5a00" stroke-width="0.84"/>
<use href="#q150" fill="#f0202a" stroke="#f0202a" stroke-width="0.42"/>
<use href="#q150" fill="#ffaaaa"/>
<use href="#q151" fill="#3c00a0" stroke="#3c00a0" stroke-width="3.50"/>
<use href="#q151" fill="#0000b4" stroke="#0000b4" stroke-width="3.15"/>
<use href="#q151" fill="#0064ff" stroke="#0064ff" stroke-width="2.80"/>
<use href="#q151" fill="#00ffff" stroke="#00ffff" stroke-width="2.45"/>
<use href="#q151" fill="#00f088" stroke="#00f088" stroke-width="2.10"/>
<use href="#q151" fill="#80ff00" stroke="#80ff00" stroke-width="1.75"/>
<use href="#q151" fill="#ffff00" stroke="#ffff00" stroke-width="1.40"/>
<use href="#q151" fill="#ffa000" stroke="#ffa000" stroke-width="1.05"/>
<use href="#q151" fill="#ff5a00" stroke="#ff5a00" stroke-width="0.70"/>
<use href="#q151" fill="#f0202a" stroke="#f0202a" stroke-width="0.35"/>
<use href="#q151" fill="#ffaaaa"/>
<use href="#q152" fill="#0064ff" stroke="#0064ff" stroke-width="1.75"/>
<use href="#q152" fill="#0000b4"/>
<use href="#q153" fill="#0064ff" stroke="#0064ff" stroke-width="2.80"/>
<use href="#q153" fill="#0000b4"/>
<path d="M452 405.2L504.4 406.1L539.4 407L556.9 408.7L565.6 412.2L539.4 411.4L521.9 410.5L504.4 412.2L487 413.1L469.5 414L452 414.8Z" fill="#00f088"/>
<path d="M452 419.2L469.5 418.3L487 421L504.4 428L521.9 434.9L535.9 445.4L539.4 455.9L535.9 466.4L532.4 472L452 472Z" fill="#80ff00"/>
<path d="M452 428L466 428.8L487 433.2L504.4 440.2L518.4 450.7L521.9 459.4L513.2 466.4L495.7 468.2L478.2 466.4L469.5 462.9L462.5 455.9L452 452.4Z" fill="#ffff00"/>
<path d="M462.5 454.2L469.5 452.4L474.7 459.4L473 466.4L466 469.9L462.5 464.7Z" fill="#80ff00"/>
<path d="M483.5 472L485.2 464.7L491.3 460.8L495.3 464.7L493.9 472Z" fill="#ffa000"/>
<path d="M452 462.9L460.7 462L466 466.4L469.5 472L452 472Z" fill="#00f088"/>
<path d="M452 468.2L459 467.3L462.5 472L452 472Z" fill="#00ffff"/>
<path d="M487 414L497.4 413.1L509.7 414.8L518.4 415.7L525.4 412.2L534.1 410.5L541.1 414L542 422.7L537.6 431.5L530.7 434.1L521.9 429.7L516.7 434.9L513.2 429.7L504.4 424.5L495.7 419.2Z" fill="#0064ff"/>
<path d="M526.3 422.7L529.8 419.2L535 419.2L537.6 423.6L535 428L528.9 428.8Z" fill="#0000b4"/>
<path d="M535.9 445.4L539.4 428L546.4 419.2L556.9 410.5L574.3 407L591.8 406.1L610 407L610 428L591.8 429.7L577.8 433.2L574.3 440.2L581.3 448.9L588.3 452.4L574.3 461.2L556.9 462.9L542.9 459.4Z" fill="#00f088"/>
<path d="M542 443.7L545.5 431.5L555.1 422.7L569.1 417.1L588.3 412.6L610 410.5L610 428L591.8 429.7L579.6 430.6L572.6 434.9L572.6 441.9L577.8 448.9L574.3 457.7L563.9 461.5L549.9 460.3L543.2 453.3Z" fill="#80ff00"/>
<path d="M560.4 434.9L563.9 428L569.1 425.3L571.7 428L568.2 438.4L563.9 441.9Z" fill="#ffff00"/>
<path d="M600.6 421L610 418.3L610 423.6L604.1 423.6Z" fill="#ffff00"/>
<path d="M579.6 466.4L584.8 457.7L591.8 451.6L598.8 453.3L605.8 459.4L607.6 464.7L600.6 468.2L588.3 469.9Z" fill="#0064ff"/>
<path d="M588.3 462.9L591.8 460.3L596.2 461.2L595.3 464.7L590.9 465Z" fill="#0000b4"/>
<path d="M605.8 472L607.6 466.4L610 464.7L610 472Z" fill="#00f088"/>
</g>
<g clip-path="url(#t23)">
<rect x="610" y="393" width="158" height="79" fill="#80ff00"/>
<path d="M610 393L768 393L768 405.2L749.8 406.1L732.3 404.4L714.9 403.5L697.4 402.6L662.4 402.6L627.5 402.6L610 402.6Z" fill="#0064ff"/>
<use href="#q154" fill="#3c00a0" stroke="#3c00a0" stroke-width="2.80"/>
<use href="#q154" fill="#8000a8"/>
<use href="#q155" fill="#3c00a0" stroke="#3c00a0" stroke-width="3.50"/>
<use href="#q155" fill="#0000b4" stroke="#0000b4" stroke-width="3.15"/>
<use href="#q155" fill="#0064ff" stroke="#0064ff" stroke-width="2.80"/>
<use href="#q155" fill="#00ffff" stroke="#00ffff" stroke-width="2.45"/>
<use href="#q155" fill="#00f088" stroke="#00f088" stroke-width="2.10"/>
<use href="#q155" fill="#80ff00" stroke="#80ff00" stroke-width="1.75"/>
<use href="#q155" fill="#ffff00" stroke="#ffff00" stroke-width="1.40"/>
<use href="#q155" fill="#ffa000" stroke="#ffa000" stroke-width="1.05"/>
<use href="#q155" fill="#ff5a00" stroke="#ff5a00" stroke-width="0.70"/>
<use href="#q155" fill="#f0202a" stroke="#f0202a" stroke-width="0.35"/>
<use href="#q155" fill="#ffaaaa"/>
<path d="M706.1 403.5L718.4 402.6L723.6 407L718.4 417.5L711.4 421L707.9 414Z" fill="#ffff00"/>
<use href="#q156" fill="#ff5a00" stroke="#ff5a00" stroke-width="3.50"/>
<use href="#q156" fill="#f0202a"/>
<path d="M710.5 403.5L714.9 402.6L718.4 404.4L714.9 405.2Z" fill="#ffaaaa"/>
<use href="#q157" fill="#00f088" stroke="#00f088" stroke-width="5.24"/>
<use href="#q157" fill="#00ffff"/>
<path d="M743.7 429.7L749.8 424.5L758.6 421L768 418.3L768 424.5L758.6 426.2L749.8 429.7Z" fill="#0000b4"/>
<path d="M610 419.2L627.5 418.3L631 424.5L636.2 436.7L645 450.7L648.5 462.9L646.7 472L620.5 472L617 462.9L615.2 450.7L610 445.4Z" fill="#ffff00"/>
<path d="M624 472L627.5 462.9L636.2 450.7L641.5 455.9L645 466.4L644.1 472Z" fill="#ffa000"/>
<path d="M636.2 472L639.7 464.7L643.2 462.9L644.1 472Z" fill="#f0202a"/>
<path d="M610 428L615.2 431.5L617 445.4L615.2 455.9L610 459.4Z" fill="#00f088"/>
<path d="M610 457.7L612.6 459.4L613.5 464.7L610 466.4Z" fill="#00ffff"/>
<path d="M636.2 428L645 422.7L662.4 419.2L679.9 418.3L693.9 421L697.4 428L693.9 441.9L700.9 459.4L693.9 462.9L679.9 462L667.7 455.9L662.4 445.4L653.7 436.7L645 433.2Z" fill="#00f088"/>
<path d="M658.9 426.2L669.4 422.7L679.9 421.8L686.9 424.5L690.4 431.5L690.4 445.4L693.9 457.7L688.7 460.3L679.9 457.7L672.9 448.9L665.9 438.4L660.7 433.2Z" fill="#00ffff"/>
<path d="M670.3 434.1L674.7 432.8L679.9 436.7L685.2 443.7L687.8 450.7L685.2 452.4L681.7 448.9L676.4 443.7L672 438.4Z" fill="#0064ff"/>
<path d="M648.5 443.7L653.7 440.2L658.9 441.9L660.7 448.9L657.2 455.9L651.9 454.2Z" fill="#ffff00"/>
<path d="M720.1 452.4L725.4 448.1L735.8 447.2L746.3 450.7L748.1 455.9L735.8 457.7L723.6 456.8Z" fill="#00f088"/>
<path d="M749.8 434.9L758.6 430.6L768 429.7L768 448.9L760.3 447.2L753.3 441.9Z" fill="#ffff00"/>
<path d="M683.4 472L688.7 468.2L706.1 467.3L721.9 469.9L725.4 472Z" fill="#ffff00"/>
<path d="M753.3 472L758.6 464.7L768 462L768 472Z" fill="#00f088"/>
</g>
<g clip-path="url(#t24)">
<rect x="136" y="393" width="79" height="79" fill="#00f088"/>
<path d="M136 403.9L160.2 403.9L184.3 406.3L215 407.5L215 417.2L196.4 422L178.3 426.8L160.2 431.7L148.1 432.9L136 432.9Z" fill="#80ff00"/>
<path d="M181.9 407.5L196.4 406.3L215 405.1L215 416L196.4 417.2L184.3 416Z" fill="#00f088"/>
<path d="M184.3 409.9L196.4 408.1L208.5 407.5L215 406.9L215 413.5L202.4 414.7L190.4 414.7Z" fill="#00ffff"/>
<use href="#q158" fill="#80ff00" stroke="#80ff00" stroke-width="7.25"/>
<use href="#q158" fill="#ffff00"/>
<path d="M178.3 449.8L190.4 443.7L202.4 438.9L215 434.1L215 465.5L202.4 463.1L190.4 458.2L181.9 454.6Z" fill="#00ffff"/>
<use href="#q159" fill="#80ff00" stroke="#80ff00" stroke-width="3.38"/>
<use href="#q159" fill="#ffff00"/>
<path d="M136 460.6L160.2 461.9L184.3 463.1L215 464.3L215 467.3L184.3 466.1L160.2 465.5L136 465.5Z" fill="#80ff00"/>
<path d="M136 472L138.4 467.3L148.1 466.1L160.2 466.7L166.2 469.1L165 472Z" fill="#00ffff"/>
<path d="M136 402.1L148.1 402.7L166.2 403.9L166.2 406.9L148.1 406.3L136 406.3Z" fill="#00ffff"/>
<use href="#q160" fill="#00f088" stroke="#00f088" stroke-width="1.93"/>
<use href="#q160" fill="#00ffff"/>
<use href="#q161" fill="#00f088" stroke="#00f088" stroke-width="3.62"/>
<use href="#q161" fill="#00ffff" stroke="#00ffff" stroke-width="2.42"/>
<use href="#q161" fill="#0064ff" stroke="#0064ff" stroke-width="1.21"/>
<use href="#q161" fill="#0000b4"/>
<use href="#q162" fill="#00f088" stroke="#00f088" stroke-width="6.04"/>
<use href="#q162" fill="#00ffff" stroke="#00ffff" stroke-width="4.83"/>
<use href="#q162" fill="#0064ff" stroke="#0064ff" stroke-width="3.62"/>
<use href="#q162" fill="#0000b4" stroke="#0000b4" stroke-width="2.42"/>
<use href="#q162" fill="#3c00a0" stroke="#3c00a0" stroke-width="1.21"/>
<use href="#q162" fill="#8000a8"/>
<use href="#q163" fill="#0064ff" stroke="#0064ff" stroke-width="1.93"/>
<use href="#q163" fill="#0000b4"/>
<use href="#q164" fill="#0064ff" stroke="#0064ff" stroke-width="4.83"/>
<use href="#q164" fill="#0000b4" stroke="#0000b4" stroke-width="3.22"/>
<use href="#q164" fill="#3c00a0" stroke="#3c00a0" stroke-width="1.61"/>
<use href="#q164" fill="#8000a8"/>
<use href="#q165" fill="#0064ff" stroke="#0064ff" stroke-width="1.21"/>
<use href="#q165" fill="#0000b4"/>
<use href="#q166" fill="#00f088" stroke="#00f088" stroke-width="2.90"/>
<use href="#q166" fill="#80ff00" stroke="#80ff00" stroke-width="2.42"/>
<use href="#q166" fill="#ffff00" stroke="#ffff00" stroke-width="1.93"/>
<use href="#q166" fill="#ffa000" stroke="#ffa000" stroke-width="1.45"/>
<use href="#q166" fill="#ff5a00" stroke="#ff5a00" stroke-width="0.97"/>
<use href="#q166" fill="#f0202a" stroke="#f0202a" stroke-width="0.48"/>
<use href="#q166" fill="#ffaaaa"/>
</g>
</g>
</g>
<path d="M147.36 473V469.00M147.36 157V161.00M160.07 473V469.00M160.07 157V161.00M172.78 473V469.00M172.78 157V161.00M185.49 473V469.00M185.49 157V161.00M198.20 473V464.50M198.20 157V165.50M210.91 473V469.00M210.91 157V161.00M223.62 473V469.00M223.62 157V161.00M236.33 473V469.00M236.33 157V161.00M249.04 473V469.00M249.04 157V161.00M261.75 473V464.50M261.75 157V165.50M274.46 473V469.00M274.46 157V161.00M287.17 473V469.00M287.17 157V161.00M299.88 473V469.00M299.88 157V161.00M312.59 473V469.00M312.59 157V161.00M325.30 473V464.50M325.30 157V165.50M338.01 473V469.00M338.01 157V161.00M350.72 473V469.00M350.72 157V161.00M363.43 473V469.00M363.43 157V161.00M376.14 473V469.00M376.14 157V161.00M388.85 473V464.50M388.85 157V165.50M401.56 473V469.00M401.56 157V161.00M414.27 473V469.00M414.27 157V161.00M426.98 473V469.00M426.98 157V161.00M439.69 473V469.00M439.69 157V161.00M452.40 473V464.50M452.40 157V165.50M465.11 473V469.00M465.11 157V161.00M477.82 473V469.00M477.82 157V161.00M490.53 473V469.00M490.53 157V161.00M503.24 473V469.00M503.24 157V161.00M515.95 473V464.50M515.95 157V165.50M528.66 473V469.00M528.66 157V161.00M541.37 473V469.00M541.37 157V161.00M554.08 473V469.00M554.08 157V161.00M566.79 473V469.00M566.79 157V161.00M579.50 473V464.50M579.50 157V165.50M592.21 473V469.00M592.21 157V161.00M604.92 473V469.00M604.92 157V161.00M617.63 473V469.00M617.63 157V161.00M630.34 473V469.00M630.34 157V161.00M643.05 473V464.50M643.05 157V165.50M655.76 473V469.00M655.76 157V161.00M668.47 473V469.00M668.47 157V161.00M681.18 473V469.00M681.18 157V161.00M693.89 473V469.00M693.89 157V161.00M706.60 473V464.50M706.60 157V165.50M719.31 473V469.00M719.31 157V161.00M732.02 473V469.00M732.02 157V161.00M744.73 473V469.00M744.73 157V161.00M757.44 473V469.00M757.44 157V161.00M136 454.68H140.00M767.5 454.68H763.50M136 434.75H144.00M767.5 434.75H759.50M136 414.83H140.00M767.5 414.83H763.50M136 394.90H144.00M767.5 394.90H759.50M136 374.98H140.00M767.5 374.98H763.50M136 355.05H144.00M767.5 355.05H759.50M136 335.12H140.00M767.5 335.12H763.50M136 315.20H144.00M767.5 315.20H759.50M136 295.27H140.00M767.5 295.27H763.50M136 275.35H144.00M767.5 275.35H759.50M136 255.43H140.00M767.5 255.43H763.50M136 235.50H144.00M767.5 235.50H759.50M136 215.57H140.00M767.5 215.57H763.50M136 195.65H144.00M767.5 195.65H759.50M136 175.73H140.00M767.5 175.73H763.50" stroke="#000" stroke-width="2" fill="none"/>
<rect x="136" y="157" width="631.5" height="316" fill="none" stroke="#000" stroke-width="2"/>
<rect x="784" y="246.00" width="18" height="22.75" fill="#f0202a" stroke="#000" stroke-width="2"/>
<rect x="784" y="268.75" width="18" height="22.75" fill="#ff5a00" stroke="#000" stroke-width="2"/>
<rect x="784" y="291.50" width="18" height="22.75" fill="#ffa000" stroke="#000" stroke-width="2"/>
<rect x="784" y="314.25" width="18" height="22.75" fill="#ffff00" stroke="#000" stroke-width="2"/>
<rect x="784" y="337.00" width="18" height="22.75" fill="#80ff00" stroke="#000" stroke-width="2"/>
<rect x="784" y="359.75" width="18" height="22.75" fill="#00f088" stroke="#000" stroke-width="2"/>
<rect x="784" y="382.50" width="18" height="22.75" fill="#00ffff" stroke="#000" stroke-width="2"/>
<rect x="784" y="405.25" width="18" height="22.75" fill="#0064ff" stroke="#000" stroke-width="2"/>
<rect x="784" y="428.00" width="18" height="22.75" fill="#0000b4" stroke="#000" stroke-width="2"/>
<rect x="784" y="450.75" width="18" height="22.75" fill="#3c00a0" stroke="#000" stroke-width="2"/>
<path d="M784 246 L793 207 L802 246 Z" fill="#ffaaaa" stroke="#000" stroke-width="2" stroke-linejoin="miter"/>
<path d="M784 473.5 L793 515 L802 473.5 Z" fill="#8000a8" stroke="#000" stroke-width="2"/>
<text x="222.8" y="113.4" style="font-family:'DejaVu Sans',sans-serif;font-size:28.6px;font-weight:200" textLength="457.8" lengthAdjust="spacingAndGlyphs" stroke="#000" stroke-width="0.75">potential temperature deviation</text>
<text x="46.6" y="134.6" style="font-family:'DejaVu Sans',sans-serif;font-size:15.6px;font-weight:200" textLength="86.6" lengthAdjust="spacingAndGlyphs" stroke="#000" stroke-width="0.85">(x1E4 m)</text>
<text x="689.2" y="516.6" style="font-family:'DejaVu Sans',sans-serif;font-size:15.6px;font-weight:200" textLength="86.6" lengthAdjust="spacingAndGlyphs" stroke="#000" stroke-width="0.85">(x1E4 m)</text>
<text x="777.2" y="169" style="font-family:'DejaVu Sans',sans-serif;font-size:16.3px;font-weight:200" textLength="121.2" lengthAdjust="spacingAndGlyphs" stroke="#000" stroke-width="0.45">t=1.7676e+06</text>
<text x="377.6" y="546.9" style="font-family:'DejaVu Sans',sans-serif;font-size:21.8px;font-weight:200" textLength="149.5" lengthAdjust="spacingAndGlyphs" stroke="#000" stroke-width="0.6">X coordinate</text>
<g transform="translate(101.6,389.6) rotate(-90)"><text x="0" y="0" style="font-family:'DejaVu Sans',sans-serif;font-size:21.8px;font-weight:200" textLength="148.8" lengthAdjust="spacingAndGlyphs" stroke="#000" stroke-width="0.6">Z coordinate</text></g>
<text x="192.70" y="495" style="font-family:'Liberation Sans',sans-serif;font-size:18.2px;font-weight:normal" text-anchor="start" textLength="8.5" lengthAdjust="spacingAndGlyphs" stroke="#000" stroke-width="0.45">1</text>
<text x="255.90" y="495" style="font-family:'Liberation Sans',sans-serif;font-size:18.2px;font-weight:normal" text-anchor="start" textLength="11.4" lengthAdjust="spacingAndGlyphs" stroke="#000" stroke-width="0.45">2</text>
<text x="319.40" y="495" style="font-family:'Liberation Sans',sans-serif;font-size:18.2px;font-weight:normal" text-anchor="start" textLength="11.4" lengthAdjust="spacingAndGlyphs" stroke="#000" stroke-width="0.45">3</text>
<text x="382.70" y="495" style="font-family:'Liberation Sans',sans-serif;font-size:18.2px;font-weight:normal" text-anchor="start" textLength="11.4" lengthAdjust="spacingAndGlyphs" stroke="#000" stroke-width="0.45">4</text>
<text x="446.20" y="495" style="font-family:'Liberation Sans',sans-serif;font-size:18.2px;font-weight:normal" text-anchor="start" textLength="11.4" lengthAdjust="spacingAndGlyphs" stroke="#000" stroke-width="0.45">5</text>
<text x="509.70" y="495" style="font-family:'Liberation Sans',sans-serif;font-size:18.2px;font-weight:normal" text-anchor="start" textLength="11.399999999999944" lengthAdjust="spacingAndGlyphs" stroke="#000" stroke-width="0.45">6</text>
<text x="573.20" y="495" style="font-family:'Liberation Sans',sans-serif;font-size:18.2px;font-weight:normal" text-anchor="start" textLength="11.4" lengthAdjust="spacingAndGlyphs" stroke="#000" stroke-width="0.45">7</text>
<text x="637.20" y="495" style="font-family:'Liberation Sans',sans-serif;font-size:18.2px;font-weight:normal" text-anchor="start" textLength="11.500000000000023" lengthAdjust="spacingAndGlyphs" stroke="#000" stroke-width="0.45">8</text>
<text x="701.40" y="495" style="font-family:'Liberation Sans',sans-serif;font-size:18.2px;font-weight:normal" text-anchor="start" textLength="10.799999999999978" lengthAdjust="spacingAndGlyphs" stroke="#000" stroke-width="0.45">9</text>
<text x="115.70" y="401.40" style="font-family:'Liberation Sans',sans-serif;font-size:18.6px;font-weight:normal" text-anchor="start" textLength="11.2" lengthAdjust="spacingAndGlyphs" stroke="#000" stroke-width="0.45">2</text>
<text x="115.50" y="320.40" style="font-family:'Liberation Sans',sans-serif;font-size:18.6px;font-weight:normal" text-anchor="start" textLength="11.2" lengthAdjust="spacingAndGlyphs" stroke="#000" stroke-width="0.45">4</text>
<text x="116.20" y="241.10" style="font-family:'Liberation Sans',sans-serif;font-size:18.6px;font-weight:normal" text-anchor="start" textLength="11.2" lengthAdjust="spacingAndGlyphs" stroke="#000" stroke-width="0.45">6</text>
<text x="809.90" y="274.60" style="font-family:'Liberation Sans',sans-serif;font-size:16px;font-weight:normal" text-anchor="start" textLength="35.9" lengthAdjust="spacingAndGlyphs" stroke="#000" stroke-width="0.45">0.32</text>
<text x="809.90" y="319.80" style="font-family:'Liberation Sans',sans-serif;font-size:16px;font-weight:normal" text-anchor="start" textLength="35.9" lengthAdjust="spacingAndGlyphs" stroke="#000" stroke-width="0.45">0.16</text>
<text x="810.20" y="366.60" style="font-family:'Liberation Sans',sans-serif;font-size:16px;font-weight:normal" text-anchor="start" textLength="10.4" lengthAdjust="spacingAndGlyphs" stroke="#000" stroke-width="0.45">0</text>
<text x="810.60" y="410.60" style="font-family:'Liberation Sans',sans-serif;font-size:16px;font-weight:normal" text-anchor="start" textLength="48.5" lengthAdjust="spacingAndGlyphs" stroke="#000" stroke-width="0.45">−0.16</text>
<text x="810.60" y="456.50" style="font-family:'Liberation Sans',sans-serif;font-size:16px;font-weight:normal" text-anchor="start" textLength="48.2" lengthAdjust="spacingAndGlyphs" stroke="#000" stroke-width="0.45">−0.32</text>
</svg>
</body></html>
